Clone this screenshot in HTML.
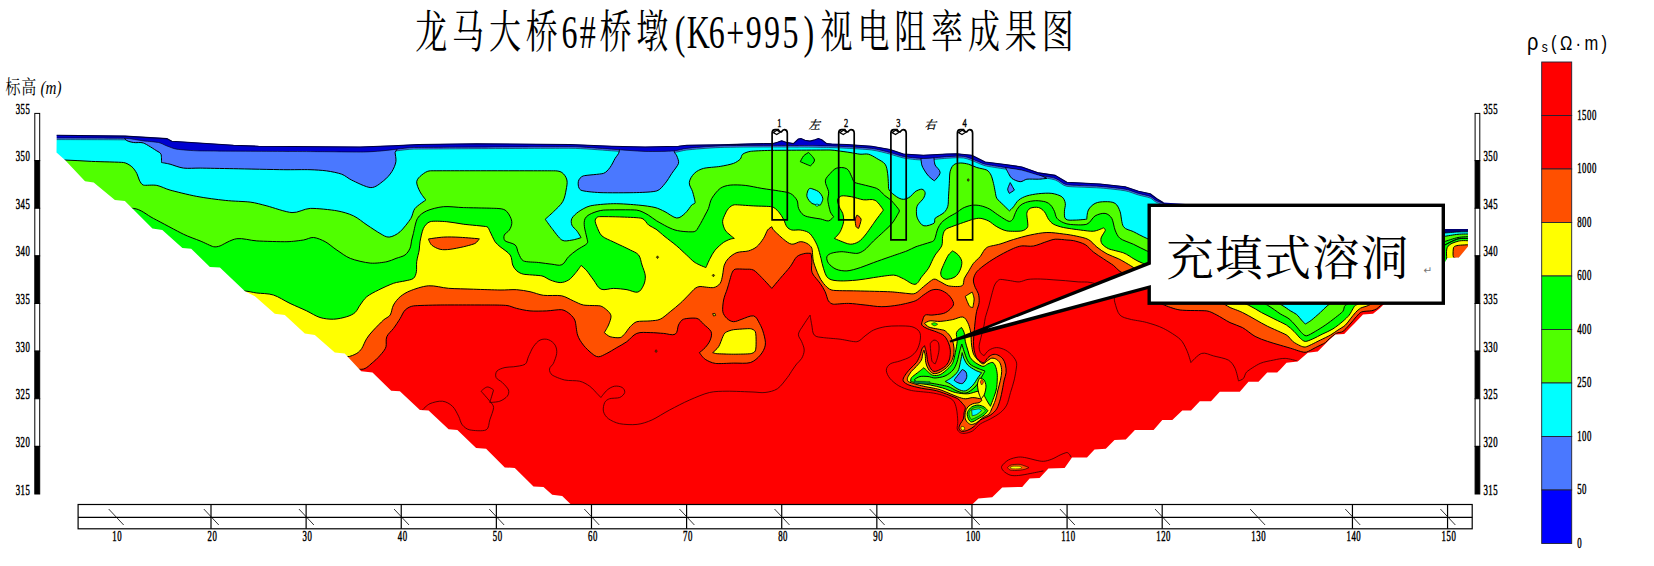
<!DOCTYPE html>
<html lang="zh"><head><meta charset="utf-8"><title>龙马大桥6#桥墩(K6+995)视电阻率成果图</title>
<style>
html,body{margin:0;padding:0;background:#fff}
body{width:1654px;height:566px;overflow:hidden}
svg{display:block}
text{fill:#000}
.ax{font-family:"Liberation Serif","Noto Serif CJK SC",serif;font-size:14.6px;letter-spacing:0.9px;stroke:#000;stroke-width:0.5px}
.axx{font-family:"Liberation Serif","Noto Serif CJK SC",serif;font-size:12.5px}
.cb{font-family:"Liberation Serif","Noto Serif CJK SC",serif;font-size:11.5px}
.bh{font-family:"Liberation Serif","Noto Serif CJK SC",serif;font-size:13.5px;stroke:#000;stroke-width:0.45px}
.bhc{font-family:"Liberation Serif","Noto Serif CJK SC",serif;font-size:11.5px;stroke:#000;stroke-width:0.25px;font-style:italic}
.title{font-family:"Liberation Serif","Noto Serif CJK SC",serif;font-size:32px}
.call{font-family:"Liberation Serif","Noto Serif CJK SC",serif;font-size:47.6px}
.unit{font-family:"Liberation Sans","Noto Sans CJK SC",sans-serif;font-size:16.5px}
.ylab{font-family:"Liberation Serif","Noto Serif CJK SC",serif;font-size:15px}
</style></head>
<body>
<svg width="1654" height="566" viewBox="0 0 1654 566">
<defs><clipPath id="clip"><rect x="44" y="104" width="1428.5" height="400.5"/></clipPath></defs>
<rect width="1654" height="566" fill="#fff"/>
<g transform="scale(1 1.42)"><text y="34.0141" class="title" text-anchor="middle" x="431.2 468.1 504.9 541.8 569.4 587.8 615.5 652.3 680.0 698.4 716.8 735.2 753.7 772.1 790.5 808.9 836.6 873.4 910.3 947.1 984.0 1020.8 1057.7">龙马大桥6#桥墩(K6+995)视电阻率成果图</text></g>
<g transform="scale(1 1.3)"><text y="72.6" class="ylab" text-anchor="middle" x="12.9 28.8">标高</text><text x="40.5" y="72.6" class="ylab" font-style="italic" textLength="21" lengthAdjust="spacingAndGlyphs">(m)</text></g>
<g clip-path="url(#clip)">
<rect x="44" y="104" width="1429" height="400.5" fill="#ff0000"/>
<path d="M30 369.3 C30.0 369.3 357.2 369.4 361.8 369.3 C366.4 369.2 370.4 364.2 373.5 361.8 C376.6 359.4 380.1 355.4 381.8 353.4 C383.5 351.4 385.3 349.2 386 346.7 C386.7 344.2 385.5 339.8 386.8 336.7 C388.1 333.6 391.4 331.2 393.5 328.4 C395.6 325.6 398.5 321.1 400.2 318.4 C401.9 315.7 403.0 312.1 405.2 310 C407.4 307.9 410.5 306.3 413.5 305.9 C416.5 305.5 431.4 305.1 440.2 305 C449.0 304.9 484.8 305.0 490.3 305 C495.8 305.0 503.7 305.1 507 305.5 C510.3 305.9 513.4 307.6 516.7 308.4 C520.0 309.2 525.5 310.5 530 310.9 C534.5 311.3 541.7 311.1 546.7 310.9 C551.7 310.7 558.6 309.3 561.7 309.7 C564.8 310.1 568.0 312.4 570.1 314.2 C572.2 316.0 574.2 318.3 575.1 320.9 C576.0 323.5 576.4 331.5 577.6 335.1 C578.8 338.7 581.1 342.1 583.4 345.1 C585.7 348.1 589.9 351.9 591.8 353.4 C593.7 354.9 595.9 356.8 598.4 356.8 C600.9 356.8 604.1 354.7 606.8 353.4 C609.5 352.1 613.5 349.5 616.8 347.6 C620.1 345.7 623.7 343.9 626.8 341.7 C629.9 339.5 632.8 335.0 636.8 333.4 C640.8 331.8 645.8 332.6 650.2 332.6 C654.6 332.6 659.6 333.2 663.5 333.4 C667.4 333.6 672.4 335.8 675.2 334.2 C678.0 332.6 677.3 327.2 678.5 325 C679.7 322.8 681.1 320.1 683.5 319.2 C685.9 318.3 694.1 317.7 696.9 318.4 C699.7 319.1 701.5 322.2 703.6 324.2 C705.7 326.2 710.0 329.1 711.1 331.7 C712.2 334.3 711.2 337.5 710.2 340.1 C709.2 342.7 706.9 345.7 705.2 347.6 C703.5 349.5 699.4 352.6 699.4 352.6 C699.4 352.6 702.8 357.7 705.2 359.3 C707.6 360.9 711.7 362.9 715.3 363.4 C718.9 363.9 728.1 363.2 733.6 363.1 C739.1 363.0 746.3 363.8 750.3 362.6 C754.3 361.4 757.9 357.9 760.3 355.1 C762.7 352.3 764.7 348.7 765.3 345.1 C765.9 341.5 764.5 336.8 763.6 333.4 C762.7 330.0 761.1 326.1 759.5 323.4 C757.9 320.7 756.7 316.6 753.6 315.9 C750.5 315.2 744.6 318.4 741.9 319.2 C739.2 320.0 736.1 321.8 733.6 321.7 C731.1 321.6 728.7 320.1 726.9 318.4 C725.1 316.7 723.3 314.3 722.8 311.7 C722.3 309.1 723.0 303.4 723.6 300 C724.2 296.6 726.4 291.6 726.9 290 C727.4 288.4 727.9 286.7 728.4 285.1 C728.9 283.5 731.1 275.0 731.8 273.4 C732.5 271.8 733.4 269.7 735.1 269.2 C736.8 268.7 742.3 269.1 745.1 269.2 C747.9 269.3 751.0 268.8 753.5 270.1 C756.0 271.4 759.2 275.0 761.8 277.6 C764.4 280.2 771.8 288.4 771.8 288.4 C771.8 288.4 777.4 281.7 780.2 278.4 C783.0 275.1 787.8 269.8 790.2 266.7 C792.6 263.6 794.6 258.7 796.8 256.7 C799.0 254.7 803.3 253.8 805.2 253.4 C807.1 253.0 811.0 253.4 811 253.4 C811.0 253.4 811.8 257.9 811.9 260.1 C812.0 262.3 811.3 268.2 811.5 270 C811.7 271.8 812.4 273.5 813.4 275 C814.4 276.5 818.2 280.7 820.1 283.3 C822.0 285.9 823.7 288.8 825.1 291.7 C826.5 294.6 827.3 299.3 828.4 300.9 C829.5 302.5 831.4 304.0 833.4 304.2 C835.4 304.4 843.5 303.3 848.5 303.4 C853.5 303.5 859.6 304.5 865.1 305 C870.6 305.5 876.3 306.7 881.8 306.7 C887.3 306.7 893.0 305.9 898.5 305 C904.0 304.1 912.1 302.1 915.2 300.9 C918.3 299.7 920.8 296.8 923.5 295 C926.2 293.2 929.3 290.8 931.9 290 C934.5 289.2 937.6 289.2 940.2 290 C942.8 290.8 946.3 292.7 948.6 295 C950.9 297.3 953.4 301.2 953.6 303.4 C953.8 305.6 951.8 307.6 950.2 309.2 C948.6 310.8 946.1 312.6 943.6 313.4 C941.1 314.2 934.1 314.9 931.9 315.1 C929.7 315.3 926.8 314.2 925.2 315.1 C923.6 316.0 923.2 318.5 922.7 320.1 C922.2 321.7 921.1 323.7 921.9 325.1 C922.7 326.5 925.6 327.8 927.7 328.8 C929.8 329.8 933.9 330.8 936.5 331.9 C939.1 333.0 942.0 333.9 944 335.7 C946.0 337.5 947.4 340.3 948.4 342.6 C949.4 344.9 950.1 347.6 950.3 350.1 C950.5 352.6 950.2 356.7 949.6 358.9 C949.0 361.1 948.0 363.4 946.5 365.1 C945.0 366.8 942.1 368.5 940.2 369.5 C938.3 370.5 935.6 371.7 933.9 371.4 C932.2 371.1 931.1 369.2 930.2 367.7 C929.3 366.2 928.2 363.6 927.7 361.4 C927.2 359.2 926.9 354.9 926.4 352.6 C925.9 350.3 924.5 345.7 924.5 345.7 C924.5 345.7 922.6 347.6 922 348.8 C921.4 350.0 920.9 353.1 920.1 355.1 C919.3 357.1 918.0 360.4 916.4 362.6 C914.8 364.8 911.9 366.9 910.1 368.9 C908.3 370.9 906.1 373.5 905.1 375.2 C904.1 376.9 902.5 379.0 903.2 380.8 C903.9 382.6 906.7 384.1 908.9 385 C911.1 385.9 917.2 387.3 921.4 388.2 C925.6 389.1 932.3 389.6 936.5 390.7 C940.7 391.8 946.1 394.0 949 395.1 C951.9 396.2 956.0 397.7 957.8 398.8 C959.6 399.9 961.0 401.8 962.2 403.2 C963.4 404.6 965.0 405.9 965.3 407.6 C965.6 409.3 964.4 410.9 964.1 412.6 C963.8 414.3 964.0 417.1 963.4 418.9 C962.8 420.7 960.9 422.5 960.3 423.9 C959.7 425.3 958.8 427.0 959 428.3 C959.2 429.6 960.2 431.1 961.5 431.4 C962.8 431.7 965.8 431.0 967.8 430.2 C969.8 429.4 972.2 427.9 974.1 426.4 C976.0 424.9 978.0 421.8 980.4 420.1 C982.8 418.4 988.0 416.8 990.4 415.1 C992.8 413.4 995.2 411.4 996.7 408.9 C998.2 406.4 999.6 401.6 1000.4 398.8 C1001.2 396.0 1001.7 392.9 1002.3 390 C1002.9 387.1 1003.7 382.4 1004.2 380 C1004.7 377.6 1005.9 375.2 1006.1 372.7 C1006.3 370.2 1006.0 367.3 1005.5 365.1 C1005.0 362.9 1004.2 360.5 1002.9 358.9 C1001.6 357.2 999.4 355.8 997.9 355.1 C996.4 354.4 994.5 354.1 992.9 354.5 C991.3 354.9 989.3 356.3 987.9 357.6 C986.5 358.9 985.2 362.0 984.1 362.6 C983.0 363.2 981.5 362.1 980.4 361.4 C979.3 360.7 977.5 359.1 976.6 357.6 C975.7 356.1 974.6 352.7 974.1 350.1 C973.6 347.5 973.5 344.2 973.5 341.3 C973.5 338.4 973.9 335.4 974.1 332.5 C974.3 329.6 975.0 323.1 975.3 320.2 C975.6 317.3 976.0 314.3 976.6 311.4 C977.2 308.5 978.8 305.5 979.1 302.6 C979.4 299.7 979.0 296.0 978.4 293.8 C977.8 291.6 976.1 289.8 975.3 287.6 C974.5 285.4 973.2 282.6 973.4 280 C973.6 277.4 974.9 274.0 976.8 271.7 C978.7 269.4 983.3 265.9 986.8 263.4 C990.3 260.9 995.8 257.5 1000.1 255.1 C1004.4 252.7 1010.9 249.5 1013.5 248.4 C1016.1 247.3 1019.0 246.2 1021.8 245.9 C1024.6 245.6 1029.7 246.7 1033.5 246 C1037.3 245.3 1044.2 242.3 1046.9 241.5 C1049.6 240.7 1052.4 239.4 1055.2 239.2 C1058.0 239.0 1064.8 239.8 1066.9 240 C1069.0 240.2 1071.3 240.1 1073.4 240.6 C1075.5 241.1 1082.0 242.7 1085.2 244.6 C1088.4 246.5 1090.6 249.9 1093.6 252.2 C1096.6 254.5 1100.3 256.7 1103.6 258.9 C1106.9 261.1 1111.4 263.9 1113.7 265.6 C1116.0 267.3 1117.6 270.0 1120 271.5 C1122.4 273.0 1140.4 281.2 1145 285 C1149.6 288.8 1152.8 297.7 1155 300 C1157.2 302.3 1160.4 303.5 1163.4 304.7 C1166.4 305.9 1174.4 309.2 1180.1 310 C1185.8 310.8 1203.3 310.4 1206.8 310.9 C1210.3 311.4 1213.6 313.4 1216.8 315 C1220.0 316.6 1226.0 320.6 1230 322.6 C1234.0 324.6 1238.6 325.5 1242.5 327.6 C1246.4 329.7 1251.2 334.3 1255.1 336.4 C1259.0 338.5 1263.5 340.0 1267.6 341.4 C1271.7 342.8 1276.1 344.0 1280.2 345.2 C1284.3 346.4 1290.2 348.1 1292.7 348.9 C1295.2 349.7 1298.3 350.9 1300.3 351.4 C1302.3 351.9 1304.5 352.6 1306.5 352.1 C1308.5 351.6 1312.4 349.2 1315.3 347.7 C1318.2 346.2 1323.8 343.7 1325.3 342.7 C1326.8 341.7 1327.7 340.0 1329.1 338.9 C1330.5 337.8 1334.7 334.2 1336.6 333.2 C1338.5 332.2 1341.1 332.6 1342.9 331.4 C1344.7 330.2 1347.2 327.3 1349.2 325.1 C1351.2 322.9 1355.2 317.9 1356.7 316.3 C1358.2 314.7 1359.6 312.7 1361.7 311.9 C1363.8 311.1 1370.1 311.1 1371.8 310.7 C1373.5 310.3 1375.4 309.6 1376.8 308.8 C1378.2 308.0 1379.1 306.4 1380.5 305.6 C1381.9 304.8 1392.7 295.7 1400 295 C1407.3 294.3 1490.0 295.0 1490 295 C1490.0 295.0 1490.0 95.0 1490 95 C1490.0 95.0 30.0 95.0 30 95 C30.0 95.0 30.0 369.3 30 369.3Z" fill="#ff5000" stroke="#000" stroke-width="1" stroke-linejoin="round"/>
<path d="M30 356.8 C30.0 356.8 343.3 356.8 346.8 356.8 C350.3 356.8 354.8 354.5 356.8 353.4 C358.8 352.3 360.5 350.3 361.8 348.4 C363.1 346.5 364.9 341.4 366.8 338.4 C368.7 335.4 371.1 332.7 373.5 330.1 C375.9 327.5 381.5 321.9 383.5 320 C385.5 318.1 388.7 317.3 390.2 315 C391.7 312.7 391.8 308.0 393.5 305 C395.2 302.0 397.5 299.0 400.2 296.7 C402.9 294.4 406.6 292.2 410.2 290.8 C413.8 289.4 422.3 286.2 428.6 285.8 C434.9 285.4 442.0 287.8 448.6 288.3 C455.2 288.8 465.3 288.9 473.6 289.2 C481.9 289.5 494.5 289.9 500 290 C505.5 290.1 512.3 289.4 516.7 289.7 C521.1 290.0 525.7 290.8 530 291.7 C534.3 292.6 538.9 294.7 543.4 295.3 C547.9 295.9 557.6 295.0 561.7 295.8 C565.8 296.6 570.1 299.5 573.4 300.9 C576.7 302.3 579.9 304.3 583.4 305 C586.9 305.7 597.6 305.4 600.1 305.9 C602.6 306.4 605.0 308.4 606.8 310 C608.6 311.6 610.7 313.5 611 315.9 C611.3 318.3 609.6 322.3 608.5 325 C607.4 327.7 604.3 332.6 604.3 332.6 C604.3 332.6 607.9 336.0 610.1 336.7 C612.3 337.4 618.0 338.1 620.1 337.6 C622.2 337.1 623.6 335.0 625.1 333.4 C626.6 331.8 628.3 328.6 630.2 326.7 C632.1 324.8 634.2 322.5 636.8 321.7 C639.4 320.9 646.9 321.3 650.2 320.9 C653.5 320.5 657.2 320.6 660.2 319.2 C663.2 317.8 667.0 314.3 670.2 311.7 C673.4 309.1 677.3 306.0 680.2 303.4 C683.1 300.8 686.4 297.2 688.6 295 C690.8 292.8 693.8 289.3 695.2 288.3 C696.6 287.3 698.3 286.6 700 286.5 C701.7 286.4 710.8 288.0 713.4 287.6 C716.0 287.2 718.6 285.5 720.1 283.4 C721.6 281.3 722.0 277.9 722.6 275.1 C723.2 272.3 723.4 267.5 724.3 265.1 C725.2 262.7 726.6 260.2 728.4 258.4 C730.2 256.6 733.6 253.8 736.8 252.6 C740.0 251.4 745.6 251.8 748.5 250.9 C751.4 250.0 754.4 248.7 756.8 246.7 C759.2 244.7 761.8 241.0 763.5 238.4 C765.2 235.8 766.6 231.4 767.6 230 C768.6 228.6 771.8 226.7 771.8 226.7 C771.8 226.7 772.7 229.1 773.5 230 C774.3 230.9 781.0 237.2 783.5 239.2 C786.0 241.2 788.9 243.8 791.8 244.2 C794.7 244.6 797.9 241.8 800.2 241.7 C802.5 241.6 804.9 242.3 806.9 243.4 C808.9 244.5 811.1 246.2 811.9 248.4 C812.7 250.6 812.4 257.4 813.5 261.7 C814.6 266.0 817.2 272.2 818.5 275.1 C819.8 278.0 821.4 281.0 823.5 283.4 C825.6 285.8 828.4 289.3 831.9 290.1 C835.4 290.9 848.6 290.7 856.9 290.9 C865.2 291.1 884.8 291.5 890.3 291.8 C895.8 292.1 904.2 293.2 906.9 293.4 C909.6 293.6 912.7 294.4 915.2 293.4 C917.7 292.4 920.7 288.9 923.5 286.7 C926.3 284.5 931.4 279.9 933.6 279.2 C935.8 278.5 938.1 280.8 940.2 281.7 C942.3 282.6 945.6 285.3 948.6 285.9 C951.6 286.5 959.5 287.0 961.9 285.9 C964.3 284.8 963.3 280.6 964.4 278.3 C965.5 276.0 967.1 273.9 968.4 271.7 C969.7 269.5 971.5 265.9 973.4 263.4 C975.3 260.9 978.5 258.7 980.1 256.7 C981.7 254.7 983.2 251.5 984.3 250.1 C985.4 248.7 986.8 247.3 988.5 246.7 C990.2 246.1 996.3 245.1 1000.1 244 C1003.9 242.9 1009.0 240.8 1013.5 239.5 C1018.0 238.2 1024.7 236.1 1030.2 235 C1035.7 233.9 1041.4 232.7 1046.9 232.5 C1052.4 232.3 1059.1 233.5 1063.5 234 C1067.9 234.5 1072.9 235.3 1076.8 236.2 C1080.7 237.1 1085.2 237.8 1088.5 239.6 C1091.8 241.4 1094.0 244.8 1096.9 247.1 C1099.8 249.4 1103.5 252.0 1107 253.9 C1110.5 255.8 1115.0 257.0 1118.8 258.9 C1122.6 260.8 1128.3 264.3 1130.5 265.6 C1132.7 266.9 1134.7 268.6 1137 269.5 C1139.3 270.4 1166.0 279.4 1180 285 C1194.0 290.6 1223.4 303.9 1225.1 304.7 C1226.8 305.5 1228.3 306.7 1230 307.5 C1231.7 308.3 1238.5 310.6 1242.5 312.5 C1246.5 314.4 1251.0 317.1 1255.1 319.4 C1259.2 321.7 1263.5 324.3 1267.6 326.3 C1271.7 328.3 1277.7 330.8 1280.2 332 C1282.7 333.2 1285.7 334.3 1287.7 335.8 C1289.7 337.3 1290.8 339.9 1292.7 341.4 C1294.6 342.9 1298.7 345.1 1300.3 345.8 C1301.9 346.5 1303.6 347.2 1305.3 347 C1307.0 346.8 1309.5 345.4 1311.5 344.5 C1313.5 343.6 1317.4 341.5 1320.3 340.1 C1323.2 338.7 1327.8 336.6 1330.4 335.1 C1333.0 333.6 1335.4 331.8 1337.9 330.1 C1340.4 328.5 1343.4 326.9 1345.4 325.1 C1347.4 323.3 1348.7 320.9 1350.4 318.8 C1352.1 316.7 1354.0 314.1 1355.5 312.5 C1357.0 310.9 1358.6 309.3 1360.5 308.2 C1362.4 307.1 1365.6 306.7 1368 305.6 C1370.4 304.5 1408.5 286.5 1420 280 C1431.5 273.5 1450.9 259.7 1453.1 257.6 C1455.3 255.5 1452.3 250.2 1453.1 248.4 C1453.9 246.6 1456.3 246.0 1458.2 245.5 C1460.1 245.0 1464.8 244.6 1468 244.5 C1471.2 244.4 1490.0 244.5 1490 244.5 C1490.0 244.5 1490.0 95.0 1490 95 C1490.0 95.0 30.0 95.0 30 95 C30.0 95.0 30.0 356.8 30 356.8Z" fill="#ffff00" stroke="#000" stroke-width="1" stroke-linejoin="round"/>
<path d="M712.7 352.6 C712.7 352.6 717.1 349.0 718.6 346.7 C720.1 344.4 722.1 338.1 722.8 336.7 C723.5 335.3 724.0 333.5 725.3 332.6 C726.6 331.7 730.7 330.1 733.6 329.7 C736.5 329.3 748.4 328.5 750.3 328.7 C752.2 328.9 754.5 329.9 755.3 331.7 C756.1 333.5 756.1 338.7 756.1 341.7 C756.1 344.7 756.1 349.2 755.3 350.9 C754.5 352.6 752.2 353.4 750.3 353.7 C748.4 354.0 739.1 354.2 733.6 354.2 C728.1 354.2 718.3 353.8 716.9 353.7 C715.5 353.6 712.7 352.6 712.7 352.6Z" fill="#ffff00" stroke="#000" stroke-width="1" stroke-linejoin="round"/>
<path d="M965.3 296.3 C965.3 296.3 972.2 292.0 972.2 292 C972.2 292.0 974.0 296.5 974.1 298.9 C974.2 301.3 972.8 307.6 972.8 307.6 C972.8 307.6 970.4 307.2 969.7 306.4 C969.0 305.6 967.9 303.0 967.2 301.4 C966.5 299.8 965.3 296.3 965.3 296.3Z" fill="#ffff00" stroke="#000" stroke-width="1" stroke-linejoin="round"/>
<path d="M712.7 313.7 C712.7 313.7 714.9 313.4 714.9 313.4 C714.9 313.4 715.6 315.4 715.6 315.4 C715.6 315.4 713.6 316.0 713.6 316 C713.6 316.0 712.7 313.7 712.7 313.7Z" fill="#ffff00" stroke="#000" stroke-width="1" stroke-linejoin="round"/>
<path d="M428.4 239 C428.4 239.0 438.4 237.4 443.4 237.1 C448.4 236.8 454.6 237.0 460.1 237.3 C465.6 237.6 479.3 238.8 479.3 238.8 C479.3 238.8 476.9 242.5 475.1 243.4 C473.3 244.3 467.3 245.9 463.4 246.8 C459.5 247.7 453.4 248.9 450.1 249.3 C446.8 249.7 443.1 250.0 440.1 249.3 C437.1 248.6 433.4 246.6 431.7 245.1 C430.0 243.6 428.4 239.0 428.4 239Z" fill="#ff5000" stroke="#000" stroke-width="1" stroke-linejoin="round"/>
<path d="M30 291 C30.0 291.0 239.1 291.0 243.5 291 C247.9 291.0 252.3 292.4 256.7 293 C261.1 293.6 268.1 293.3 273.4 295 C278.7 296.7 284.5 300.8 290 303.4 C295.5 306.0 302.3 308.8 306.7 310.9 C311.1 313.0 315.7 316.2 320 317.5 C324.3 318.8 328.9 319.3 333.4 319.2 C337.9 319.1 343.9 317.6 346.8 316.7 C349.7 315.8 352.9 314.5 355.1 312.5 C357.3 310.5 358.3 307.4 360.1 305 C361.9 302.6 364.1 298.9 366.8 296.7 C369.5 294.5 374.5 292.0 378.5 290 C382.5 288.0 389.8 284.6 393.5 283.3 C397.2 282.0 402.2 281.6 405 280.9 C407.8 280.2 411.5 279.9 413.4 278.4 C415.3 276.9 415.9 274.1 416.4 271.7 C416.9 269.3 416.3 265.0 416.7 261.7 C417.1 258.4 418.8 252.7 419.2 250 C419.6 247.3 419.5 244.5 420 241.8 C420.5 239.1 422.0 231.2 423.4 228.4 C424.8 225.6 427.1 222.6 430.1 221.7 C433.1 220.8 441.2 221.3 446.7 221.7 C452.2 222.1 457.9 223.5 463.4 224.2 C468.9 224.9 484.9 226.2 486.8 226.7 C488.7 227.2 489.1 230.0 490.1 231.8 C491.1 233.6 493.8 239.9 495.1 241.8 C496.4 243.7 498.4 245.2 500.1 246.7 C501.8 248.2 508.3 252.2 510.2 255 C512.1 257.8 511.8 262.8 512.7 265 C513.6 267.2 515.0 269.4 516.8 270.9 C518.6 272.4 521.1 273.7 523.5 274.2 C525.9 274.7 538.9 275.3 541.9 275.9 C544.9 276.5 547.3 278.9 550.2 280 C553.1 281.1 557.3 282.6 560.2 282.6 C563.1 282.6 566.1 281.5 568.6 280 C571.1 278.5 573.2 275.7 575.2 273.4 C577.2 271.1 581.1 265.4 581.1 265.4 C581.1 265.4 585.2 268.9 586.9 270.9 C588.6 272.9 591.3 277.1 593.6 280 C595.9 282.9 597.5 287.7 601.1 289.2 C604.7 290.7 609.5 288.3 613.6 288.4 C617.7 288.5 623.4 289.1 627 289.7 C630.6 290.3 634.9 292.9 637.8 292.1 C640.7 291.3 642.3 287.8 643.6 285.1 C644.9 282.4 645.5 279.0 645.3 275.9 C645.1 272.8 643.1 268.3 642 265 C640.9 261.7 640.6 257.5 638.6 255 C636.6 252.5 633.1 251.5 630.3 250 C627.5 248.5 617.5 243.9 613.6 242 C609.7 240.1 604.4 238.2 601.9 235.9 C599.4 233.6 597.8 228.8 596.9 226.7 C596.0 224.6 594.9 221.7 595.2 220.1 C595.5 218.5 597.0 216.9 598.6 216.7 C600.2 216.5 615.4 216.7 622 217 C628.6 217.3 639.0 217.5 642 218.4 C645.0 219.3 646.5 223.4 648.7 225.1 C650.9 226.8 653.7 227.6 656 229.2 C658.3 230.8 662.0 234.3 665 236.7 C668.0 239.1 673.3 243.0 676.7 245.9 C680.1 248.8 683.9 252.6 686.7 255.1 C689.5 257.6 692.0 260.6 695.1 262.6 C698.2 264.6 705.9 267.6 705.9 267.6 C705.9 267.6 708.6 261.2 710.1 258.4 C711.6 255.6 713.0 252.6 715.1 250.1 C717.2 247.6 721.4 243.9 723.4 242.5 C725.4 241.1 728.8 239.7 730.1 239.2 C731.4 238.7 734.3 238.4 734.3 238.4 C734.3 238.4 731.4 236.2 730.1 235 C728.8 233.8 726.2 232.0 725.1 230 C724.0 228.0 722.6 224.3 722.6 221.7 C722.6 219.1 724.2 216.2 725.1 214.2 C726.0 212.2 726.9 210.0 728.5 208.4 C730.1 206.8 732.1 205.0 734.4 204.8 C736.7 204.6 747.4 205.6 753.5 205.9 C759.6 206.2 769.2 206.2 771.9 206.8 C774.6 207.4 776.7 209.8 778.6 211.8 C780.5 213.8 782.2 216.8 783.5 219.2 C784.8 221.6 785.6 225.1 786.8 226.7 C788.0 228.3 789.9 229.5 791.8 230 C793.7 230.5 797.5 229.6 800.2 230 C802.9 230.4 806.3 231.1 808.5 232.5 C810.7 233.9 812.1 236.3 813.5 238.4 C814.9 240.5 816.6 243.8 817.7 246.7 C818.8 249.6 820.1 255.1 821 258.4 C821.9 261.7 822.3 265.2 823.5 268.4 C824.7 271.6 825.5 276.2 828.5 278.4 C831.5 280.6 836.3 280.7 840.2 280.9 C844.1 281.1 851.4 280.6 856.9 280.1 C862.4 279.6 868.1 278.4 873.6 277.6 C879.1 276.8 890.1 275.0 893.6 275.1 C897.1 275.2 900.3 277.4 903.5 278.8 C906.7 280.2 911.7 284.7 915 284.3 C918.3 283.9 919.6 279.3 921.7 276.8 C923.8 274.3 927.0 270.5 928.4 268.4 C929.8 266.3 930.6 263.9 931.7 261.7 C932.8 259.5 933.8 257.2 935.1 255.1 C936.4 253.0 940.5 248.7 941.7 245.9 C942.9 243.1 942.1 239.0 942.6 236.7 C943.1 234.4 943.5 231.7 945.1 230 C946.7 228.3 949.4 227.6 951.7 226.7 C954.0 225.8 960.1 223.6 963.4 222.5 C966.7 221.4 971.2 219.7 973.4 219.2 C975.6 218.7 977.9 218.1 980.1 218.3 C982.3 218.5 985.9 219.6 988.5 220.9 C991.1 222.2 993.9 225.1 996.8 226.7 C999.7 228.3 1003.3 230.3 1006.8 230.9 C1010.3 231.5 1019.5 231.4 1021.8 230.9 C1024.1 230.4 1027.0 229.0 1027.7 226.7 C1028.4 224.4 1026.5 215.3 1026.8 213.3 C1027.1 211.3 1028.4 209.2 1030.2 208.3 C1032.0 207.4 1036.2 206.9 1038.5 207.5 C1040.8 208.1 1042.8 209.9 1044.4 211.7 C1046.0 213.5 1047.1 217.3 1048.5 219.2 C1049.9 221.1 1051.5 223.1 1053.5 224.2 C1055.5 225.3 1060.1 226.8 1063.5 227.5 C1066.9 228.2 1075.8 229.5 1080.2 230 C1084.6 230.5 1090.1 231.5 1093.6 231.2 C1097.1 230.9 1103.6 227.8 1103.6 227.8 C1103.6 227.8 1105.5 229.4 1105.3 230.4 C1105.1 231.4 1101.6 236.0 1101.1 237.9 C1100.6 239.8 1100.9 242.2 1102 243.8 C1103.1 245.4 1106.2 247.7 1108.7 248.8 C1111.2 249.9 1120.2 251.6 1123.8 253 C1127.4 254.4 1131.2 257.4 1133.9 258.9 C1136.6 260.4 1139.4 262.0 1142.3 263.1 C1145.2 264.2 1183.8 278.6 1200 285 C1216.2 291.4 1244.4 303.3 1248.8 305.3 C1253.2 307.3 1257.3 310.3 1261.4 312.5 C1265.5 314.7 1269.8 316.7 1273.9 318.8 C1278.0 320.9 1283.8 323.4 1286.5 325.1 C1289.2 326.8 1291.8 329.3 1294 331.4 C1296.2 333.5 1298.8 337.0 1300.3 338.3 C1301.8 339.6 1303.4 341.3 1305.3 341.4 C1307.2 341.5 1310.4 339.9 1312.8 338.9 C1315.2 337.9 1319.5 335.5 1322.8 333.9 C1326.1 332.3 1329.7 330.9 1332.9 328.9 C1336.1 326.9 1340.7 323.2 1342.9 321.3 C1345.1 319.4 1347.7 317.0 1349.2 315.1 C1350.7 313.2 1352.1 310.0 1352.9 308.8 C1353.7 307.6 1354.2 305.9 1355.5 305.3 C1356.8 304.7 1410.9 279.3 1420 275 C1429.1 270.7 1444.1 265.3 1447.4 262 C1450.7 258.7 1445.5 251.4 1447.4 247.7 C1449.3 244.0 1455.1 242.3 1458.2 241.4 C1461.3 240.5 1464.8 241.4 1468 241.4 C1471.2 241.4 1490.0 241.4 1490 241.4 C1490.0 241.4 1490.0 95.0 1490 95 C1490.0 95.0 30.0 95.0 30 95 C30.0 95.0 30.0 291.0 30 291Z" fill="#00ff00" stroke="#000" stroke-width="1" stroke-linejoin="round"/>
<path d="M952.6 250.9 C952.6 250.9 956.9 253.3 958.4 255.1 C959.9 256.9 961.5 259.3 961.8 261.7 C962.1 264.1 961.2 267.6 960.1 270.1 C959.0 272.6 957.4 275.2 955.1 276.8 C952.8 278.4 948.5 279.3 946.7 279.3 C944.9 279.3 942.7 278.2 941.7 276.8 C940.7 275.4 940.6 273.4 940.9 271.7 C941.2 270.0 943.0 266.1 944.2 263.4 C945.4 260.7 947.3 256.7 948.4 255.1 C949.5 253.5 952.6 250.9 952.6 250.9Z" fill="#00ff00" stroke="#000" stroke-width="1" stroke-linejoin="round"/>
<path d="M837.5 200.1 C837.8 198.2 839.8 196.3 841.7 195.9 C843.6 195.5 848.4 196.2 851.7 196.8 C855.0 197.4 859.6 199.2 863.4 199.8 C867.2 200.4 871.7 198.5 875.1 200.3 C878.5 202.1 883.4 210.1 883.4 210.1 C883.4 210.1 877.8 217.6 876.7 219 C875.6 220.4 874.6 222.0 873.6 223.4 C872.6 224.8 867.3 232.6 865.3 235 C863.3 237.4 861.1 240.2 858.6 241.7 C856.1 243.2 853.1 244.3 850.2 244.2 C847.3 244.1 842.2 241.6 840.2 240.9 C838.2 240.2 834.4 238.4 834.4 238.4 C834.4 238.4 838.8 234.3 840.2 231.7 C841.6 229.1 843.2 224.5 843.6 221.7 C844.0 218.9 843.2 215.1 842.7 213.3 C842.2 211.5 840.7 210.1 840 208.4 C839.3 206.7 837.2 202.0 837.5 200.1Z" fill="#ffff00" stroke="#000" stroke-width="1" stroke-linejoin="round"/>
<path d="M856.9 215 C856.9 215.0 860.9 217.3 861.1 219.2 C861.3 221.1 858.6 228.4 858.6 228.4 C858.6 228.4 856.5 227.6 856.1 226.7 C855.7 225.8 855.1 221.7 855.2 220 C855.3 218.3 856.9 215.0 856.9 215Z" fill="#ff5000" stroke="#000" stroke-width="1" stroke-linejoin="round"/>
<path d="M30 208.4 C30.0 208.4 126.0 207.8 133.4 208.4 C140.8 209.0 146.8 215.0 153.4 218.4 C160.0 221.8 178.1 231.6 183.4 234.2 C188.7 236.8 195.7 239.1 200.1 240.9 C204.5 242.7 211.2 246.2 213.4 246.7 C215.6 247.2 218.0 246.6 220.1 245.9 C222.2 245.2 230.9 239.5 236.8 238.7 C242.7 237.9 250.2 240.5 256.8 240.9 C263.4 241.3 281.4 241.8 286.9 241.7 C292.4 241.6 300.1 240.5 303.5 240 C306.9 239.5 310.2 237.2 313.6 237.5 C317.0 237.8 321.6 239.8 325.2 241.7 C328.8 243.6 332.9 247.5 336.9 250.1 C340.9 252.7 345.5 256.5 350.3 258.4 C355.1 260.3 364.8 262.6 370.3 263.1 C375.8 263.6 383.9 262.3 387 261.7 C390.1 261.1 393.0 259.5 396 258.4 C399.0 257.3 402.8 256.6 405 255 C407.2 253.4 408.9 250.8 410 248.3 C411.1 245.8 411.2 242.2 411.7 240 C412.2 237.8 412.8 235.6 413.4 233.4 C414.0 231.2 415.5 221.8 417.5 218.4 C419.5 215.0 423.1 212.5 426.7 210.9 C430.3 209.3 437.7 207.2 443.4 206.7 C449.1 206.2 456.8 207.4 463.4 207.6 C470.0 207.8 494.0 208.2 496.8 208.4 C499.6 208.6 502.8 208.7 505.1 210.1 C507.4 211.5 509.2 214.7 510.2 216.7 C511.2 218.7 512.0 221.1 511.8 223.4 C511.6 225.7 510.6 228.1 509.3 230.1 C508.0 232.1 505.0 233.3 504.3 235.1 C503.6 236.9 503.7 239.6 505.1 240.9 C506.5 242.2 513.0 243.0 515.2 245 C517.4 247.0 517.1 250.7 518.5 253.3 C519.9 255.9 520.8 259.6 523.5 260.9 C526.2 262.2 534.1 262.0 538.5 262.5 C542.9 263.0 548.6 263.9 551.9 264.2 C555.2 264.5 558.9 266.1 561.9 264.7 C564.9 263.3 566.1 259.1 568.6 256.7 C571.1 254.3 574.3 251.8 576.9 250 C579.5 248.2 584.1 245.8 585.2 245 C586.3 244.2 587.8 243.1 587.7 241.8 C587.6 240.5 584.7 229.4 584.4 226.7 C584.1 224.0 583.9 220.8 585.2 218.4 C586.5 216.0 589.2 214.5 591.7 213.4 C594.2 212.3 599.4 210.4 603.4 210.1 C607.4 209.8 632.5 209.6 636.7 210.1 C640.9 210.6 645.5 213.5 648.4 215.1 C651.3 216.7 653.8 219.3 656.7 220.9 C659.6 222.5 668.9 228.2 675 230 C681.1 231.8 691.7 232.1 694.2 231.7 C696.7 231.3 697.8 228.0 699.2 225.9 C700.6 223.8 704.0 217.2 705.1 215 C706.2 212.8 707.6 210.7 708.5 208.4 C709.4 206.1 710.0 201.4 711.8 198.4 C713.6 195.4 717.4 190.4 720.2 188.4 C723.0 186.4 726.7 185.5 730.2 185.1 C733.7 184.7 740.3 184.9 745.2 185.4 C750.1 185.9 756.4 187.5 761.9 188.4 C767.4 189.3 774.7 190.2 778.6 190.9 C782.5 191.6 787.5 192.0 790.3 193.4 C793.1 194.8 795.5 197.7 796.9 200.1 C798.3 202.5 797.5 205.9 798.6 208.4 C799.7 210.9 801.3 213.5 803.6 215.1 C805.9 216.7 809.2 217.0 811.9 217.6 C814.6 218.2 817.5 218.4 820.3 218.9 C823.1 219.4 826.5 221.3 828.6 220.9 C830.7 220.5 833.6 216.7 833.6 216.7 C833.6 216.7 830.9 213.6 830.3 211.8 C829.7 210.0 828.0 202.9 827.8 200.1 C827.6 197.3 829.0 194.5 828.6 191.7 C828.2 188.9 825.0 183.9 825.3 180.9 C825.6 177.9 828.5 175.4 830.3 173.4 C832.1 171.4 834.1 168.9 836.7 168.1 C839.3 167.3 844.0 167.2 846.7 168.7 C849.4 170.2 850.6 174.8 851.7 176.7 C852.8 178.6 853.0 181.7 855 182.6 C857.0 183.5 873.3 186.9 876.7 188.4 C880.1 189.9 883.3 194.4 885.1 195.9 C886.9 197.4 889.2 198.4 890.9 200.1 C892.6 201.8 898.6 208.8 899.2 210.1 C899.8 211.4 898.5 212.9 897.8 214.2 C897.1 215.5 894.3 220.6 892 223.4 C889.7 226.2 886.4 229.0 883.6 231.7 C880.8 234.4 876.7 237.9 873.6 240.9 C870.5 243.9 866.6 248.5 864.4 250.1 C862.2 251.7 859.6 253.2 856.9 253.4 C854.2 253.6 845.2 251.7 841.9 251.7 C838.6 251.7 833.8 252.5 831.9 253.1 C830.0 253.7 827.5 254.8 826.9 256.7 C826.3 258.6 827.2 261.6 828.6 263.4 C830.0 265.2 833.2 268.0 836.1 269.2 C839.0 270.4 843.3 271.1 846.9 270.9 C850.5 270.7 856.0 269.0 860.3 267.6 C864.6 266.2 869.2 264.2 873.6 262.6 C878.0 261.0 884.8 258.6 890.3 256.7 C895.8 254.8 903.9 252.1 907 250.9 C910.1 249.7 912.9 247.8 916 246.7 C919.1 245.6 931.4 242.0 932.7 241.4 C934.0 240.8 934.7 239.1 935.2 237.7 C935.7 236.3 936.8 231.1 937.7 228.9 C938.6 226.7 939.9 224.4 941.5 222.6 C943.1 220.8 945.6 219.1 947.8 217.6 C950.0 216.1 954.5 213.9 956.6 212.6 C958.7 211.3 960.5 209.3 962.8 208.2 C965.1 207.1 968.7 205.7 971.6 205.3 C974.5 204.9 977.5 205.1 980.4 205.7 C983.3 206.3 986.9 207.7 989.2 208.8 C991.5 209.9 993.4 211.8 995.5 213.2 C997.6 214.6 1001.0 217.0 1003 218.2 C1005.0 219.4 1007.8 221.3 1009.3 221.4 C1010.8 221.5 1012.2 220.1 1013 218.9 C1013.8 217.7 1014.5 214.6 1015.5 212.6 C1016.5 210.6 1017.6 208.0 1019.3 206.3 C1021.0 204.6 1023.3 203.3 1025.6 202.5 C1027.9 201.7 1032.3 200.8 1035.6 200.7 C1038.9 200.6 1043.7 201.3 1045.6 201.9 C1047.5 202.5 1049.3 203.6 1050.7 205.1 C1052.1 206.6 1053.4 209.1 1054.4 211.3 C1055.4 213.5 1055.4 216.3 1056.9 218.2 C1058.4 220.1 1060.9 221.5 1063.2 222.6 C1065.5 223.7 1068.2 224.3 1070.7 224.5 C1073.2 224.7 1083.1 225.5 1086.8 224.2 C1090.5 222.9 1092.2 217.6 1095.1 215.9 C1098.0 214.2 1102.4 213.0 1105.1 213.4 C1107.8 213.8 1110.4 216.0 1111.8 218.4 C1113.2 220.8 1113.9 227.1 1115.1 230.1 C1116.3 233.1 1117.6 236.4 1120.1 238.4 C1122.6 240.4 1129.1 242.3 1133.5 244.3 C1137.9 246.3 1142.3 249.0 1146.8 250.9 C1151.3 252.8 1203.8 272.7 1220 280 C1236.2 287.3 1263.2 302.8 1267.6 305.3 C1272.0 307.8 1277.4 312.0 1280.2 313.8 C1283.0 315.6 1286.7 317.0 1289 318.8 C1291.3 320.6 1293.2 322.9 1295.2 325.1 C1297.2 327.3 1300.1 331.3 1301.5 332.6 C1302.9 333.9 1304.5 336.0 1306.5 335.8 C1308.5 335.6 1312.5 333.0 1315.3 331.4 C1318.1 329.8 1322.1 327.3 1325.3 325.1 C1328.5 322.9 1332.9 319.6 1335.4 317.6 C1337.9 315.6 1341.5 313.0 1342.9 311.3 C1344.3 309.6 1343.6 306.5 1345.4 305.3 C1347.2 304.1 1411.0 267.9 1420 262 C1429.0 256.1 1437.9 244.1 1444.8 240.7 C1451.7 237.3 1460.8 238.7 1468 238.3 C1475.2 237.9 1490.0 238.3 1490 238.3 C1490.0 238.3 1490.0 95.0 1490 95 C1490.0 95.0 30.0 95.0 30 95 C30.0 95.0 30.0 208.4 30 208.4Z" fill="#50ff00" stroke="#000" stroke-width="1" stroke-linejoin="round"/>
<path d="M30 160 C30.0 160.0 55.1 159.8 64.2 160 C73.3 160.2 82.6 161.0 91.7 161.4 C100.8 161.8 120.3 162.1 123.4 162.5 C126.5 162.9 129.7 165.0 131.8 166.7 C133.9 168.4 135.6 171.3 136.8 173.4 C138.0 175.5 138.3 178.2 139.3 180.1 C140.3 182.0 141.4 184.5 143.4 185.1 C145.4 185.7 152.5 184.6 156.8 185.4 C161.1 186.2 165.6 188.9 170.1 190.1 C174.6 191.3 187.9 194.7 196.8 196.4 C205.7 198.1 217.0 199.5 225.2 200.4 C233.4 201.3 244.6 201.4 250.2 202.1 C255.8 202.8 261.4 204.5 266.9 205.9 C272.4 207.3 285.8 212.2 292 212.6 C298.2 213.0 304.1 208.6 310.3 208.4 C316.5 208.2 331.2 209.8 336.9 210.8 C342.6 211.8 348.8 213.6 353.6 215.9 C358.4 218.2 362.7 222.2 367 225 C371.3 227.8 377.1 231.8 380 233.4 C382.9 235.0 385.9 237.4 389.2 237.1 C392.5 236.8 397.0 234.4 400 231.8 C403.0 229.2 409.0 221.4 410.9 218.4 C412.8 215.4 412.7 211.2 415 208.4 C417.3 205.6 425.9 200.0 425.9 200 C425.9 200.0 421.5 194.7 420 191.7 C418.5 188.7 416.4 184.4 416.7 181.7 C417.0 179.0 419.6 176.7 421.7 175 C423.8 173.3 427.0 170.9 430.1 170.8 C433.2 170.7 550.7 170.8 553.5 170.8 C556.3 170.8 559.6 170.9 561.9 172.5 C564.2 174.1 566.2 177.1 566.9 180 C567.6 182.9 566.7 186.7 566.1 190 C565.5 193.3 564.7 198.2 562.7 201.7 C560.7 205.2 556.1 209.1 553.5 211.7 C550.9 214.3 545.2 219.2 545.2 219.2 C545.2 219.2 549.6 225.5 551.9 228.4 C554.2 231.3 559.1 238.4 561.9 240.1 C564.7 241.8 568.8 240.5 571.9 240.1 C575.0 239.7 581.1 237.6 581.1 237.6 C581.1 237.6 578.4 232.9 576.9 230.9 C575.4 228.9 572.7 227.2 571.9 225.1 C571.1 223.0 570.9 220.4 571.9 218.4 C572.9 216.4 576.0 213.5 578.6 211.7 C581.2 209.9 586.0 206.9 590.2 205.9 C594.4 204.9 605.8 203.8 613.6 203.7 C621.4 203.6 633.2 204.6 638.6 205.1 C644.0 205.6 651.5 206.6 655 207.5 C658.5 208.4 661.8 210.1 665 211.7 C668.2 213.3 673.5 217.7 676.7 218 C679.9 218.3 682.7 215.4 685.1 213.3 C687.5 211.2 690.8 206.0 691.7 205 C692.6 204.0 695.0 204.0 695.1 202.6 C695.2 201.2 693.5 194.8 692.6 191.7 C691.7 188.6 689.0 185.8 689.3 182.6 C689.6 179.4 691.9 175.8 694.3 173.4 C696.7 171.0 700.2 169.3 703.5 168.4 C706.8 167.5 715.8 167.1 720.2 166.4 C724.6 165.7 731.0 164.3 733.5 163.4 C736.0 162.5 738.9 160.5 740.2 159.2 C741.5 157.9 741.2 155.3 742.7 154.2 C744.2 153.1 747.6 151.8 750.2 151.4 C752.8 151.0 763.6 150.5 770.2 150.4 C776.8 150.3 827.2 150.0 830 150 C832.8 150.0 835.6 150.6 838.3 150.9 C841.0 151.2 846.7 152.0 850 152.5 C853.3 153.0 857.2 153.9 860 154.2 C862.8 154.5 865.7 153.5 868.4 154.2 C871.1 154.9 874.1 156.8 876.7 158.4 C879.3 160.0 883.3 161.7 885.1 164.2 C886.9 166.7 887.1 170.3 887.6 173.4 C888.1 176.5 888.2 181.2 888.4 183.4 C888.6 185.6 888.0 188.2 889.2 190.1 C890.4 192.0 894.7 195.5 896.7 196.8 C898.7 198.1 901.0 199.3 903.4 199.3 C905.8 199.3 908.1 198.1 910.1 196.8 C912.1 195.5 913.1 193.0 915.1 191.7 C917.1 190.4 920.2 189.1 921.8 189.2 C923.4 189.3 924.8 191.1 925.1 192.6 C925.4 194.1 924.4 196.7 923.4 198.4 C922.4 200.1 918.6 203.3 917.6 205.1 C916.6 206.9 916.4 209.2 916.4 211.3 C916.4 213.4 916.5 216.6 917.7 218.9 C918.9 221.2 920.9 225.0 923.9 225.8 C926.9 226.6 932.6 224.1 934 223.2 C935.4 222.3 934.0 219.4 935.2 218.2 C936.4 217.0 942.2 214.3 944 212.6 C945.8 210.9 947.1 208.6 947.8 206.3 C948.5 204.0 948.3 199.9 948.5 196.8 C948.7 193.7 949.1 187.3 949.3 183.4 C949.5 179.5 949.5 174.1 950.1 171.7 C950.7 169.3 951.8 166.5 953.5 165 C955.2 163.5 957.9 163.1 960.2 163 C962.5 162.9 965.8 163.5 968.5 164.2 C971.2 164.9 974.0 166.6 976.8 167.5 C979.6 168.4 984.9 169.1 986.8 170.1 C988.7 171.1 990.0 173.2 991 175.1 C992.0 177.0 992.8 180.7 993.5 183.4 C994.2 186.1 994.7 189.5 995.2 191.7 C995.7 193.9 995.7 196.5 996.9 198.4 C998.1 200.3 1001.6 203.2 1003.5 205.1 C1005.4 207.0 1009.4 210.9 1009.4 210.9 C1009.4 210.9 1012.3 208.3 1013.5 206.8 C1014.7 205.3 1016.4 201.9 1018.6 200.1 C1020.8 198.3 1024.0 196.8 1026.9 195.9 C1029.8 195.0 1034.7 194.1 1038.6 193.7 C1042.5 193.3 1048.4 192.9 1051.9 193.4 C1055.4 193.9 1059.9 195.3 1061.9 196.8 C1063.9 198.3 1064.9 201.0 1065.3 203.4 C1065.7 205.8 1064.3 209.3 1064.4 211.8 C1064.5 214.3 1063.9 217.7 1065.9 219.2 C1067.9 220.7 1072.0 220.1 1075.1 220.1 C1078.2 220.1 1086.8 219.2 1086.8 219.2 C1086.8 219.2 1087.0 212.7 1088.4 210 C1089.8 207.3 1092.3 204.8 1095.1 203.4 C1097.9 202.0 1101.8 201.7 1105.1 201.7 C1108.4 201.7 1112.4 201.6 1115.1 203.4 C1117.8 205.2 1119.0 208.7 1120.1 211.7 C1121.2 214.7 1121.4 223.6 1123.5 226.7 C1125.6 229.8 1130.2 230.0 1133.5 231.7 C1136.8 233.4 1142.3 236.4 1146.8 238.4 C1151.3 240.4 1198.9 259.6 1220 270 C1241.1 280.4 1279.3 303.7 1282.1 305.3 C1284.9 306.9 1288.2 309.4 1290.2 310.7 C1292.2 312.0 1294.6 312.9 1296.5 314.4 C1298.4 315.9 1300.3 318.8 1301.5 320.1 C1302.7 321.4 1305.3 324.1 1305.3 324.1 C1305.3 324.1 1309.6 321.6 1311.5 320.1 C1313.4 318.6 1317.7 314.8 1320.3 312.5 C1322.9 310.2 1325.1 307.3 1327.9 305.3 C1330.7 303.3 1386.2 263.1 1400 255 C1413.8 246.9 1437.4 238.6 1444.8 236.3 C1452.2 234.0 1460.7 234.5 1468 234.1 C1475.3 233.7 1490.0 234.1 1490 234.1 C1490.0 234.1 1490.0 95.0 1490 95 C1490.0 95.0 30.0 95.0 30 95 C30.0 95.0 30.0 160.0 30 160Z" fill="#00ffff" stroke="#000" stroke-width="1" stroke-linejoin="round"/>
<path d="M810.3 188.4 C811.5 188.5 816.6 190.1 818.6 191.7 C820.6 193.3 822.5 196.1 822.8 198.4 C823.1 200.7 820.3 205.1 820.3 205.1 C820.3 205.1 814.3 204.8 812 203.4 C809.7 202.0 807.6 198.7 807 196.8 C806.4 194.9 807.4 192.0 807.8 190.9 C808.2 189.8 809.1 188.3 810.3 188.4Z" fill="#00ffff" stroke="#000" stroke-width="1" stroke-linejoin="round"/>
<path d="M808.6 152.5 C808.6 152.5 814.2 157.6 814.5 160 C814.8 162.4 810.3 165.9 810.3 165.9 C810.3 165.9 800.3 161.7 800.3 161.7 C800.3 161.7 802.3 157.4 803.6 155.9 C804.9 154.4 808.6 152.5 808.6 152.5Z" fill="#00ff00" stroke="#000" stroke-width="1" stroke-linejoin="round"/>
<path d="M30 139.6 C30.0 139.6 47.9 139.6 56.7 139.6 C65.5 139.6 119.0 139.7 125.1 139.9 C131.2 140.1 138.4 141.9 143.4 142.5 C148.4 143.1 155.6 143.5 158.5 144.1 C161.4 144.7 164.0 146.5 166.8 147.5 C169.6 148.5 173.4 150.3 176.8 150.8 C180.2 151.3 192.5 152.4 200.2 152.5 C207.9 152.6 313.7 153.2 326 153.3 C338.3 153.4 357.3 153.7 363.4 153.6 C369.5 153.5 376.8 152.9 381.8 152.5 C386.8 152.1 391.8 151.3 396.8 150.8 C401.8 150.3 408.0 149.2 413.5 149.1 C419.0 149.0 556.2 148.2 570 148.3 C583.8 148.4 600.7 150.1 611.7 150.8 C622.7 151.5 635.7 152.7 645.1 153 C654.5 153.3 669.0 152.8 673.5 152.5 C678.0 152.2 682.4 150.5 686.8 150 C691.2 149.5 709.2 147.9 720.2 147.5 C731.2 147.1 753.7 147.0 770.2 147 C786.7 147.0 824.5 147.4 830 147.5 C835.5 147.6 841.2 148.0 846.7 148.3 C852.2 148.6 865.5 149.2 871.7 150 C877.9 150.8 885.7 153.0 890.1 154.1 C894.5 155.2 898.9 157.2 903.4 158 C907.9 158.8 916.8 160.0 923.4 160 C930.0 160.0 941.3 158.6 946.8 158.3 C952.3 158.0 958.9 157.4 963.5 158 C968.1 158.6 974.0 161.5 976.8 162.5 C979.6 163.5 982.3 165.1 985.2 165.8 C988.1 166.5 999.7 168.2 1005.2 169.1 C1010.7 170.0 1016.5 170.5 1021.9 171.7 C1027.3 172.9 1033.1 175.3 1038.6 176.7 C1044.1 178.1 1051.2 178.6 1055.3 180 C1059.4 181.4 1062.5 185.5 1066.7 186.3 C1070.9 187.1 1091.8 187.4 1100.1 188 C1108.4 188.6 1120.5 190.0 1125.1 190.8 C1129.7 191.6 1134.7 193.9 1138.5 195 C1142.3 196.1 1147.7 197.0 1150.2 198 C1152.7 199.0 1154.4 201.6 1156.9 202.5 C1159.4 203.4 1185.1 214.9 1200 216.6 C1214.9 218.3 1437.1 234.2 1444.8 234.7 C1452.5 235.2 1460.7 233.7 1468 233.5 C1475.3 233.3 1490.0 233.5 1490 233.5 C1490.0 233.5 1490.0 95.0 1490 95 C1490.0 95.0 30.0 95.0 30 95 C30.0 95.0 30.0 139.6 30 139.6Z" fill="#4a78ff" stroke="#000" stroke-width="0.5" stroke-linejoin="round"/>
<path d="M125.1 139 C126.8 141.5 130.5 141.9 133.4 142.5 C136.3 143.1 140.3 141.9 143.4 143 C146.5 144.1 155.3 150.0 156.8 150.9 C158.3 151.8 160.3 152.6 161 154.2 C161.7 155.8 161.5 162.5 161.5 162.5 C161.5 162.5 167.3 163.5 170.1 164.2 C172.9 164.9 178.9 167.5 183.5 168.1 C188.1 168.7 194.7 168.0 200.2 168.1 C205.7 168.2 222.5 168.5 233.5 168.7 C244.5 168.9 274.9 169.6 283.6 169.7 C292.3 169.8 304.5 169.5 310 169.7 C315.5 169.9 321.7 170.2 326.7 170.9 C331.7 171.6 338.1 172.9 341.7 174.2 C345.3 175.5 348.2 178.5 351.7 180.1 C355.2 181.7 366.2 187.5 370.9 187.6 C375.6 187.7 380.1 183.4 383.4 180.9 C386.7 178.4 389.9 174.7 391.8 171.7 C393.7 168.7 395.4 164.7 395.9 161.7 C396.4 158.7 395.0 153.6 395.1 152.5 C395.2 151.4 396.6 150.6 396.8 149.5 C397.0 148.4 396.8 140.0 396.8 140 C396.8 140.0 125.0 130.0 125 130 C125.0 130.0 123.4 136.5 125.1 139Z" fill="#4a78ff" stroke="#000" stroke-width="1" stroke-linejoin="round"/>
<path d="M619.2 151.7 C618.7 154.2 616.4 156.2 615.1 158.4 C613.8 160.6 611.8 165.2 610 167.5 C608.2 169.8 606.2 172.5 603.4 173.4 C600.6 174.3 585.7 175.1 583.3 175.9 C580.9 176.7 578.7 179.2 578.3 181.7 C577.9 184.2 578.2 188.8 580.8 190.1 C583.4 191.4 593.6 192.3 600 192.6 C606.4 192.9 630.0 192.8 636.7 192.6 C643.4 192.4 653.3 192.0 656.8 190.9 C660.3 189.8 662.7 186.2 665.1 183.4 C667.5 180.6 669.6 176.7 671.8 173.4 C674.0 170.1 677.8 165.8 678.5 163.4 C679.2 161.0 677.3 157.4 676.8 155.9 C676.3 154.4 674.6 153.3 674.3 151.7 C674.0 150.1 674.0 140.0 674 140 C674.0 140.0 619.0 140.0 619 140 C619.0 140.0 619.7 149.2 619.2 151.7Z" fill="#4a78ff" stroke="#000" stroke-width="1" stroke-linejoin="round"/>
<path d="M920.9 158 C920.9 158.0 921.3 163.2 921.8 165 C922.3 166.8 923.3 168.5 924.3 170.1 C925.3 171.7 926.8 174.2 928.4 175.9 C930.0 177.6 934.3 180.9 934.3 180.9 C934.3 180.9 939.9 175.6 940.1 172.6 C940.3 169.6 936.0 167.3 935.1 165 C934.2 162.7 934.0 157.5 934 157.5 C934.0 157.5 920.9 158.0 920.9 158Z" fill="#4a78ff" stroke="#000" stroke-width="1" stroke-linejoin="round"/>
<path d="M1005.2 167 C1005.2 167.0 1007.5 171.7 1008.5 173.4 C1009.5 175.1 1010.3 177.2 1011.9 178.4 C1013.5 179.6 1017.8 181.6 1020.2 181.7 C1022.6 181.8 1024.6 179.5 1026.9 179.2 C1029.2 178.9 1035.9 179.3 1038.6 179.2 C1041.3 179.1 1046.9 178.4 1046.9 178.4 C1046.9 178.4 1041.5 175.5 1038.6 174.5 C1035.7 173.5 1027.3 170.7 1021.9 169.5 C1016.5 168.3 1005.2 167.0 1005.2 167Z" fill="#4a78ff" stroke="#000" stroke-width="1" stroke-linejoin="round"/>
<path d="M1010.2 182.6 C1010.2 182.6 1014.4 190.1 1014.4 190.1 C1014.4 190.1 1009.4 193.4 1009.4 193.4 C1009.4 193.4 1007.6 190.7 1007.7 189.2 C1007.8 187.7 1010.2 182.6 1010.2 182.6Z" fill="#4a78ff" stroke="#000" stroke-width="1" stroke-linejoin="round"/>
<path d="M30 138 C30.0 138.0 47.9 138.0 56.7 138 C65.5 138.0 119.0 138.1 125.1 138.3 C131.2 138.5 138.4 140.3 143.4 140.9 C148.4 141.5 155.6 141.9 158.5 142.5 C161.4 143.1 164.0 144.9 166.8 145.9 C169.6 146.9 173.4 148.7 176.8 149.2 C180.2 149.7 192.5 150.8 200.2 150.9 C207.9 151.0 313.7 151.6 326 151.7 C338.3 151.8 357.3 152.1 363.4 152 C369.5 151.9 376.8 151.3 381.8 150.9 C386.8 150.5 391.8 149.7 396.8 149.2 C401.8 148.7 408.0 147.6 413.5 147.5 C419.0 147.4 556.2 146.6 570 146.7 C583.8 146.8 600.7 148.5 611.7 149.2 C622.7 149.9 635.7 151.1 645.1 151.4 C654.5 151.7 669.0 151.2 673.5 150.9 C678.0 150.6 682.4 148.9 686.8 148.4 C691.2 147.9 709.2 146.3 720.2 145.9 C731.2 145.5 753.7 145.4 770.2 145.4 C786.7 145.4 824.5 145.8 830 145.9 C835.5 146.0 841.2 146.4 846.7 146.7 C852.2 147.0 865.5 147.6 871.7 148.4 C877.9 149.2 885.7 151.4 890.1 152.5 C894.5 153.6 898.9 155.6 903.4 156.4 C907.9 157.2 916.8 158.4 923.4 158.4 C930.0 158.4 941.3 157.0 946.8 156.7 C952.3 156.4 958.9 155.8 963.5 156.4 C968.1 157.0 974.0 159.9 976.8 160.9 C979.6 161.9 982.3 163.5 985.2 164.2 C988.1 164.9 999.7 166.6 1005.2 167.5 C1010.7 168.4 1016.5 168.9 1021.9 170.1 C1027.3 171.3 1033.1 173.7 1038.6 175.1 C1044.1 176.5 1051.2 177.0 1055.3 178.4 C1059.4 179.8 1062.5 183.9 1066.7 184.7 C1070.9 185.5 1091.8 185.8 1100.1 186.4 C1108.4 187.0 1120.5 188.4 1125.1 189.2 C1129.7 190.0 1134.7 192.3 1138.5 193.4 C1142.3 194.5 1147.7 195.4 1150.2 196.4 C1152.7 197.4 1154.4 200.0 1156.9 200.9 C1159.4 201.8 1185.1 213.3 1200 215 C1214.9 216.7 1437.1 232.6 1444.8 233.1 C1452.5 233.6 1460.7 232.1 1468 231.9 C1475.3 231.7 1490.0 231.9 1490 231.9 C1490.0 231.9 1490.0 95.0 1490 95 C1490.0 95.0 30.0 95.0 30 95 C30.0 95.0 30.0 138.0 30 138Z" fill="#0000d0" stroke="#000" stroke-width="0.6" stroke-linejoin="round"/>
<path d="M924.5 323.3 C924.5 323.3 928.1 321.0 930.1 320.8 C932.1 320.6 936.9 321.6 940.2 321.4 C943.5 321.2 949.3 320.3 952.7 319.6 C956.1 318.9 960.3 316.5 962.8 317 C965.3 317.5 966.6 320.5 967.8 322.7 C969.0 324.9 969.9 328.7 970.3 330.2 C970.7 331.7 970.9 333.4 971 335 C971.1 336.6 971.2 342.2 971.6 345.1 C972.0 348.0 972.5 351.6 973.5 353.9 C974.5 356.2 976.5 358.6 977.9 360.1 C979.3 361.6 981.4 363.7 982.9 363.9 C984.4 364.1 985.4 362.2 986.6 361.4 C987.8 360.6 990.0 358.5 991.7 358.2 C993.4 357.9 995.3 358.6 996.7 359.5 C998.1 360.4 999.7 362.2 1000.4 363.9 C1001.1 365.6 1001.7 368.9 1001.7 371.4 C1001.7 373.9 1001.0 377.3 1000.4 380.2 C999.8 383.1 998.7 386.8 997.9 390 C997.1 393.2 996.4 397.1 995.4 400.1 C994.4 403.1 992.5 407.2 991.7 408.9 C990.9 410.6 990.4 412.6 989.1 413.9 C987.8 415.2 984.8 416.2 982.9 417.6 C981.0 419.0 978.1 421.8 976.6 422.7 C975.1 423.6 973.0 424.5 971.6 424.5 C970.2 424.5 968.8 423.6 967.8 422.7 C966.8 421.8 965.7 420.4 965.3 418.9 C964.9 417.4 964.9 414.6 965.3 412.6 C965.7 410.6 966.5 408.5 967.8 407 C969.1 405.5 971.0 404.5 972.8 403.8 C974.6 403.1 977.9 403.1 979.1 402.6 C980.3 402.1 982.2 400.1 982.2 400.1 C982.2 400.1 981.1 399.0 980.4 398.8 C979.7 398.6 975.3 397.6 972.8 397.6 C970.3 397.6 967.8 398.9 965.3 398.8 C962.8 398.7 960.2 397.7 957.8 396.9 C955.4 396.1 952.8 394.8 950.3 393.8 C947.8 392.8 942.8 390.5 939 389.4 C935.2 388.3 926.8 387.0 923.9 386.3 C921.0 385.6 917.4 384.7 915.1 384 C912.8 383.3 909.2 382.3 908.2 381.5 C907.2 380.7 907.2 378.9 907.6 377.7 C908.0 376.5 910.0 373.2 911.4 371.4 C912.8 369.6 914.9 368.1 916.4 366.4 C917.9 364.7 920.5 362.0 921.4 360.1 C922.3 358.2 922.4 355.2 922.7 353.9 C923.0 352.6 923.9 350.1 923.9 350.1 C923.9 350.1 924.9 353.4 925.2 355.1 C925.5 356.8 925.3 360.4 925.8 362.6 C926.3 364.8 927.2 367.2 928.3 368.9 C929.4 370.6 930.8 372.6 932.7 373.3 C934.6 374.0 937.1 373.5 939 372.7 C940.9 371.9 944.5 369.5 946.5 367.7 C948.5 365.9 950.3 363.8 951.5 361.4 C952.7 359.0 953.7 355.5 954 352.6 C954.3 349.7 954.0 346.4 953.4 343.8 C952.8 341.2 951.3 337.9 950.3 336.3 C949.3 334.7 947.3 332.7 946.5 332 C945.7 331.3 944.9 330.5 943.9 330.2 C942.9 329.9 939.7 329.4 937.7 329 C935.7 328.6 930.7 327.9 928.9 327.1 C927.1 326.3 924.5 323.3 924.5 323.3Z" fill="#ffff00" stroke="#000" stroke-width="1" stroke-linejoin="round"/>
<path d="M961.5 327.5 C961.5 327.5 963.6 330.7 964.1 332.5 C964.6 334.3 964.7 338.4 965.3 341.3 C965.9 344.2 967.0 347.6 967.8 350.1 C968.6 352.6 969.1 355.6 970.3 357.6 C971.5 359.6 973.4 361.3 975.3 362.6 C977.2 363.9 981.1 366.2 982.9 366.4 C984.7 366.6 986.3 364.5 987.9 363.9 C989.5 363.3 991.4 361.9 992.9 362.6 C994.4 363.3 995.4 365.8 996 367.7 C996.6 369.6 997.2 372.7 997.3 375.2 C997.4 377.7 997.1 384.5 996.7 387.5 C996.3 390.5 995.2 393.4 994.2 396.3 C993.2 399.2 990.4 406.3 990.4 406.3 C990.4 406.3 987.8 402.2 986.6 400.1 C985.4 398.0 984.2 395.1 982.9 393.8 C981.6 392.5 979.7 391.3 977.9 391.3 C976.1 391.3 971.2 393.6 967.8 393.8 C964.4 394.0 959.3 393.4 955.3 392.5 C951.3 391.6 946.8 389.2 942.7 388 C938.6 386.8 934.3 385.8 930.2 385 C926.1 384.2 919.9 383.7 917.6 383.3 C915.3 382.9 910.7 381.5 910.7 381.5 C910.7 381.5 910.6 378.7 911.4 377.7 C912.2 376.7 915.5 374.3 917.6 372.7 C919.7 371.1 923.9 367.7 923.9 367.7 C923.9 367.7 926.4 370.3 927.7 371.4 C929.0 372.5 930.7 374.7 932.7 375.2 C934.7 375.7 937.9 375.6 940.2 374.6 C942.5 373.6 945.8 370.7 947.7 368.9 C949.6 367.1 951.7 365.0 952.8 362.6 C953.9 360.2 954.6 355.9 955.3 352.6 C956.0 349.3 957.0 344.2 957.2 341.3 C957.4 338.4 955.8 334.7 956.5 332.5 C957.2 330.3 961.5 327.5 961.5 327.5Z" fill="#00ff00" stroke="#000" stroke-width="1" stroke-linejoin="round"/>
<path d="M961.8 344 C961.8 344.0 965.0 354.5 966 357 C967.0 359.5 968.1 362.1 970 364 C971.9 365.9 974.6 366.9 977 368 C979.4 369.1 985.0 371.0 985 371 C985.0 371.0 982.4 375.7 981 378 C979.6 380.3 977.5 384.5 975 387 C972.5 389.5 969.0 392.3 966 393 C963.0 393.7 959.9 392.0 957 391 C954.1 390.0 951.2 387.4 948 386.5 C944.8 385.6 934.6 383.7 930 383 C925.4 382.3 916.8 381.7 916 381.5 C915.2 381.3 914.5 379.5 914.5 379.5 C914.5 379.5 918.0 376.9 920 376.5 C922.0 376.1 925.6 376.3 928 376.5 C930.4 376.7 932.6 378.1 935 378 C937.4 377.9 942.0 377.3 945 376 C948.0 374.7 951.1 372.2 953 370 C954.9 367.8 956.0 364.8 957 362 C958.0 359.2 958.8 354.7 959.5 352 C960.2 349.3 961.8 344.0 961.8 344Z" fill="#50ff00" stroke="#000" stroke-width="1" stroke-linejoin="round"/>
<path d="M979.5 378 C979.5 378.0 983.0 378.7 984 380 C985.0 381.3 985.9 383.9 986 386 C986.1 388.1 985.2 392.1 984.5 394 C983.8 395.9 981.0 399.0 981 399 C981.0 399.0 979.1 394.4 978.5 392 C977.9 389.6 977.4 386.1 977.5 384 C977.6 381.9 979.5 378.0 979.5 378Z" fill="#ffff00" stroke="#000" stroke-width="1" stroke-linejoin="round"/>
<path d="M981.6 379.5 C981.6 379.5 983.5 381.0 983.5 382 C983.5 383.0 981.6 385.0 981.6 385 C981.6 385.0 980.4 382.9 980.4 382 C980.4 381.1 981.6 379.5 981.6 379.5Z" fill="#ff5000" stroke="#000" stroke-width="0.5" stroke-linejoin="round"/>
<path d="M962.2 352.6 C962.2 352.6 963.2 356.9 964.1 358.9 C965.0 360.9 966.1 363.4 967.8 365.1 C969.5 366.8 973.3 369.1 975.3 370.2 C977.3 371.3 981.6 372.7 981.6 372.7 C981.6 372.7 979.1 376.0 977.9 377.7 C976.7 379.4 974.9 383.0 972.8 385.2 C970.7 387.4 967.8 390.3 965.3 390.9 C962.8 391.5 960.1 390.1 957.8 389 C955.5 387.9 951.9 385.0 950.3 384 C948.7 383.0 945.2 381.5 945.2 381.5 C945.2 381.5 949.6 379.2 951.5 377.7 C953.4 376.2 956.3 373.9 957.8 371.4 C959.3 368.9 959.6 365.5 960.3 362.6 C961.0 359.7 962.2 352.6 962.2 352.6Z" fill="#00ffff" stroke="#000" stroke-width="1" stroke-linejoin="round"/>
<path d="M962.2 369.5 C962.2 369.5 965.2 370.7 965.9 372 C966.6 373.3 967.1 375.9 966.6 377.7 C966.1 379.5 964.2 382.5 962.8 383.3 C961.4 384.1 959.2 383.2 957.8 382.7 C956.4 382.2 954.0 380.2 954 380.2 C954.0 380.2 956.5 376.8 957.8 375.2 C959.1 373.6 962.2 369.5 962.2 369.5Z" fill="#4a78ff" stroke="#000" stroke-width="1" stroke-linejoin="round"/>
<path d="M914 381 C914.0 381.0 930.0 381.5 930 381.5 C930.0 381.5 930.0 383.5 930 383.5 C930.0 383.5 915.9 383.6 915 383.5 C914.1 383.4 914.0 381.0 914 381Z" fill="#008040" stroke="#000" stroke-width="0.3" stroke-linejoin="round"/>
<path d="M931.4 323.9 C931.4 323.9 933.4 322.6 934.5 322.7 C935.6 322.8 937.7 324.2 937.7 324.2 C937.7 324.2 935.7 325.9 934.5 325.8 C933.3 325.7 931.4 323.9 931.4 323.9Z" fill="#00ff00" stroke="#000" stroke-width="0.6" stroke-linejoin="round"/>
<path d="M967.8 411.4 C968.3 410.5 970.0 408.0 971.6 407 C973.2 406.0 975.8 405.1 977.9 405.1 C980.0 405.1 982.6 406.1 984.1 407 C985.6 407.9 987.9 410.7 987.9 410.7 C987.9 410.7 985.6 413.9 984.1 415.1 C982.6 416.3 979.9 417.8 977.9 418.9 C975.9 420.0 973.1 422.0 971.6 422 C970.1 422.0 969.1 420.2 968.4 418.9 C967.7 417.6 967.3 415.5 967.2 414.5 C967.1 413.5 967.3 412.3 967.8 411.4Z" fill="#00ff00" stroke="#000" stroke-width="1" stroke-linejoin="round"/>
<path d="M969.5 411.4 C970.2 410.0 971.6 409.0 973 408.3 C974.4 407.6 976.6 406.9 978.5 407 C980.4 407.1 983.3 408.6 984 409 C984.7 409.4 985.5 411.0 985.5 411 C985.5 411.0 982.6 413.7 981 414.8 C979.4 415.9 977.4 416.9 976 417.6 C974.6 418.3 971.5 419.5 971.5 419.5 C971.5 419.5 969.6 417.3 969.3 416 C969.0 414.7 968.8 412.8 969.5 411.4Z" fill="#50ff00" stroke="#000" stroke-width="0.6" stroke-linejoin="round"/>
<path d="M971.6 410.1 C971.6 410.1 978.1 408.8 979.1 408.9 C980.1 409.0 981.6 410.7 981.6 410.7 C981.6 410.7 977.9 413.8 976.6 414.5 C975.3 415.2 972.2 415.8 972.2 415.8 C972.2 415.8 971.6 410.1 971.6 410.1Z" fill="#00ffff" stroke="#000" stroke-width="0.6" stroke-linejoin="round"/>
<path d="M961.5 426.4 C961.5 426.4 963.5 426.4 964.1 427 C964.7 427.6 964.7 429.6 964.7 429.6 C964.7 429.6 962.9 430.4 962.2 430.2 C961.5 430.0 961.0 428.9 960.9 428.3 C960.8 427.7 961.5 426.4 961.5 426.4Z" fill="#ffff00" stroke="#000" stroke-width="0.6" stroke-linejoin="round"/>
<path d="M1007.5 467.5 C1007.5 467.5 1009.6 465.4 1011 465 C1012.4 464.6 1016.9 464.2 1019 464.3 C1021.1 464.4 1023.6 465.6 1025 466 C1026.4 466.4 1029.0 467.6 1029 467.6 C1029.0 467.6 1025.7 469.1 1024 469.5 C1022.3 469.9 1018.0 470.4 1016 470.5 C1014.0 470.6 1011.1 470.4 1010 470 C1008.9 469.6 1007.5 467.5 1007.5 467.5Z" fill="#ff5000" stroke="#000" stroke-width="0.6" stroke-linejoin="round"/>
<path d="M1010 467.5 C1010.0 467.5 1011.9 466.3 1013 466.2 C1014.1 466.1 1019.3 466.2 1020 466.3 C1020.7 466.4 1021.7 467.8 1021.7 467.8 C1021.7 467.8 1019.9 468.7 1019 468.8 C1018.1 468.9 1012.8 468.9 1012 468.8 C1011.2 468.7 1010.0 467.5 1010 467.5Z" fill="#ffff00" stroke="#000" stroke-width="0.5" stroke-linejoin="round"/>
<path d="M1440 229 C1440.0 229.0 1470.0 229.0 1470 229 C1470.0 229.0 1470.0 262.0 1470 262 C1470.0 262.0 1440.0 263.0 1440 263 C1440.0 263.0 1440.0 229.0 1440 229Z" fill="#00ff00" stroke="#000" stroke-width="0" stroke-linejoin="round"/>
<path d="M1440 229 C1440.0 229.0 1470.0 229.0 1470 229 C1470.0 229.0 1470.0 236.6 1470 236.6 C1470.0 236.6 1461.9 236.7 1458 237.5 C1454.1 238.3 1446.3 241.1 1444.8 241.5 C1443.3 241.9 1440.0 242.0 1440 242 C1440.0 242.0 1440.0 229.0 1440 229Z" fill="#50ff00" stroke="#000" stroke-width="1" stroke-linejoin="round"/>
<path d="M1440 229 C1440.0 229.0 1470.0 229.0 1470 229 C1470.0 229.0 1470.0 234.0 1470 234 C1470.0 234.0 1461.9 233.9 1458 234.3 C1454.1 234.7 1446.4 236.1 1444.8 236.3 C1443.2 236.5 1440.0 236.5 1440 236.5 C1440.0 236.5 1440.0 229.0 1440 229Z" fill="#00ffff" stroke="#000" stroke-width="1" stroke-linejoin="round"/>
<path d="M1440 228 C1440.0 228.0 1470.0 228.0 1470 228 C1470.0 228.0 1470.0 231.8 1470 231.8 C1470.0 231.8 1462.0 231.8 1458 232 C1454.0 232.2 1446.4 232.9 1444.8 233 C1443.2 233.1 1440.0 233.0 1440 233 C1440.0 233.0 1440.0 228.0 1440 228Z" fill="#000070" stroke="#000" stroke-width="0.8" stroke-linejoin="round"/>
<path d="M1447.3 263 C1447.3 263.0 1445.5 251.0 1447.3 247.3 C1449.1 243.6 1454.5 242.3 1458.2 241.2 C1461.9 240.1 1470.0 240.9 1470 240.9 C1470.0 240.9 1470.0 263.0 1470 263 C1470.0 263.0 1447.3 263.0 1447.3 263Z" fill="#ffff00" stroke="#000" stroke-width="1" stroke-linejoin="round"/>
<path d="M1453.7 247.3 C1454.4 245.9 1456.6 245.7 1458.2 245.4 C1459.8 245.1 1469.0 244.7 1469 244.7 C1469.0 244.7 1469.5 246.6 1469 247.3 C1468.5 248.0 1460.0 257.1 1458.8 258 C1457.6 258.9 1455.3 258.4 1454.4 258 C1453.5 257.6 1453.2 256.4 1453.1 255.5 C1453.0 254.6 1453.0 248.7 1453.7 247.3Z" fill="#ff5000" stroke="#000" stroke-width="1" stroke-linejoin="round"/>
<path d="M1444.8 245 C1444.8 245.0 1454.4 239.8 1458.2 238.8 C1462.0 237.8 1470.0 238.6 1470 238.6 C1470.0 238.6 1470.0 238.7 1470 238.7 C1470.0 238.7 1462.0 238.0 1458.2 238.9 C1454.4 239.8 1444.8 245.0 1444.8 245Z" fill="none" stroke="#000" stroke-width="0.9" stroke-linejoin="round"/>
<path d="M656.3 257.2 C656.3 257.2 657.5 255.8 657.5 255.8 C657.5 255.8 658.7 257.2 658.7 257.2 C658.7 257.2 657.5 258.6 657.5 258.6 C657.5 258.6 656.3 257.2 656.3 257.2Z" fill="#604000" stroke="#000" stroke-width="0.6" stroke-linejoin="round"/>
<path d="M712.2 275.4 C712.2 275.4 713.4 274.0 713.4 274 C713.4 274.0 714.6 275.4 714.6 275.4 C714.6 275.4 713.4 276.8 713.4 276.8 C713.4 276.8 712.2 275.4 712.2 275.4Z" fill="#604000" stroke="#000" stroke-width="0.6" stroke-linejoin="round"/>
<path d="M654.9 351.1 C654.9 351.1 656.1 349.7 656.1 349.7 C656.1 349.7 657.3 351.1 657.3 351.1 C657.3 351.1 656.1 352.5 656.1 352.5 C656.1 352.5 654.9 351.1 654.9 351.1Z" fill="#604000" stroke="#000" stroke-width="0.6" stroke-linejoin="round"/>
<path d="M967 180 C967.0 180.0 968.2 178.6 968.2 178.6 C968.2 178.6 969.4 180.0 969.4 180 C969.4 180.0 968.2 181.4 968.2 181.4 C968.2 181.4 967.0 180.0 967 180Z" fill="#604000" stroke="#000" stroke-width="0.6" stroke-linejoin="round"/>
<path d="M815 205 C815.0 205.0 816.2 206.3 817 206.3 C817.8 206.3 819.0 205.0 819 205 C819.0 205.0 817.7 204.0 817 204 C816.3 204.0 815.0 205.0 815 205Z" fill="#00ffff" stroke="#000" stroke-width="0.6" stroke-linejoin="round"/>
<path d="M422.4 410 C422.4 410.0 426.9 405.0 429.9 403.7 C432.9 402.4 438.7 400.8 442.4 401.2 C446.1 401.6 449.7 403.7 452.4 406.2 C455.1 408.7 457.1 413.4 458.6 416.2 C460.1 419.0 460.4 422.6 462.3 424.9 C464.2 427.2 466.9 429.3 469.8 429.9 C472.7 430.5 483.0 431.5 486.1 429.9 C489.2 428.3 488.7 423.2 489.8 419.9 C490.9 416.6 493.6 409.9 493.6 407.5 C493.6 405.1 491.3 403.1 489.8 401.2 C488.3 399.3 481.1 391.2 481.1 391.2 C481.1 391.2 485.0 387.2 487.3 387 C489.6 386.8 493.6 390.0 493.6 390 C493.6 390.0 489.8 402.5 489.8 402.5 C489.8 402.5 497.0 402.2 499.8 401.2 C502.6 400.2 506.0 397.8 507.3 396.2 C508.6 394.6 509.2 392.0 508.5 390 C507.8 388.0 504.2 384.4 502.3 382.5 C500.4 380.6 497.0 379.5 496.1 377.5 C495.2 375.5 495.6 372.6 497 371 C498.4 369.4 502.3 368.2 505 367.5 C507.7 366.8 510.6 367.2 513.3 366.8 C516.0 366.4 522.7 365.8 525 364.3 C527.3 362.8 527.2 359.3 528.4 356.8 C529.6 354.3 531.6 349.2 533.4 346.7 C535.2 344.2 537.5 341.3 540 340.1 C542.5 338.9 545.8 338.8 548.4 339.7 C551.0 340.6 553.7 342.7 555.1 345.1 C556.5 347.5 557.0 350.6 556.7 353.4 C556.4 356.2 554.3 361.4 553.4 363.4 C552.5 365.4 549.7 366.8 549.5 369 C549.3 371.2 550.4 373.7 552.2 375 C554.0 376.3 560.4 379.0 564.7 380 C569.0 381.0 576.1 380.3 579.7 381.2 C583.3 382.1 586.9 384.2 589.7 386.2 C592.5 388.2 596.0 392.5 597.2 393.7 C598.4 394.9 600.9 397.5 600.9 397.5 C600.9 397.5 605.1 391.8 607.2 390 C609.3 388.2 612.2 386.6 614.7 386.2 C617.2 385.8 620.6 386.5 622.2 387.5 C623.8 388.5 625.1 390.7 624.7 392.5 C624.3 394.3 621.9 396.6 619.7 397.5 C617.5 398.4 611.7 398.0 609.7 398.7 C607.7 399.4 605.6 400.6 604.7 402.5 C603.8 404.4 602.8 408.4 603.4 411.2 C604.0 414.0 606.0 416.9 608.4 418.7 C610.8 420.5 615.7 422.9 619.7 423.7 C623.7 424.5 632.0 425.0 637.1 424.4 C642.2 423.8 647.4 422.0 652.1 419.9 C656.8 417.8 663.7 413.1 669.6 410 C675.5 406.9 683.2 402.8 689.6 400 C696.0 397.2 703.9 393.8 709.5 392.5 C715.1 391.2 721.2 391.3 727 391.2 C732.8 391.1 749.0 391.9 753 392 C757.0 392.1 761.1 393.0 765 392.5 C768.9 392.0 773.9 391.1 777.5 388.7 C781.1 386.3 785.5 379.8 787.4 377.5 C789.3 375.2 791.0 372.0 792.4 370 C793.8 368.0 795.2 365.8 796.7 363.9 C798.2 362.0 800.5 360.6 801.7 358.4 C802.9 356.2 804.2 353.0 804.2 350.1 C804.2 347.2 802.6 344.2 801.7 341.7 C800.8 339.2 798.1 336.9 798.4 334.2 C798.7 331.5 801.6 328.0 803.4 325.1 C805.2 322.2 810.1 315.1 810.1 315.1 C810.1 315.1 811.1 321.8 811.8 325.1 C812.5 328.4 812.2 332.8 814.3 335.1 C816.4 337.4 820.3 337.1 823.4 337.6 C826.5 338.1 834.6 338.5 840.1 339.2 C845.6 339.9 853.5 342.1 856.8 341.7 C860.1 341.3 862.4 337.8 865.1 335.9 C867.8 334.0 870.4 331.5 873.5 330.1 C876.6 328.7 881.2 327.4 885.2 326.7 C889.2 326.0 894.1 325.9 898.5 325.9 C902.9 325.9 909.0 325.9 911.9 326.7 C914.8 327.5 917.9 329.3 919.4 331.7 C920.9 334.1 920.6 337.3 920.2 340.1 C919.8 342.9 918.5 347.4 916.9 350.1 C915.3 352.8 912.8 355.1 910.2 356.8 C907.6 358.5 903.4 359.7 900.2 360.9 C897.0 362.1 892.2 362.5 890.2 363.9 C888.2 365.3 886.3 367.8 886.3 370.2 C886.3 372.6 888.1 376.2 890 378.5 C891.9 380.8 895.5 384.0 898.8 385.8 C902.1 387.6 907.1 389.6 911.4 390.5 C915.7 391.4 926.0 392.0 930.2 392.6 C934.4 393.2 939.2 394.1 942.7 395.3 C946.2 396.5 950.6 397.9 952.8 400.1 C955.0 402.3 955.8 405.8 956.5 408.9 C957.2 412.0 957.7 418.9 957.8 421.4 C957.9 423.9 956.9 427.3 957.2 428.9 C957.5 430.5 958.9 431.9 960.3 432.7 C961.7 433.5 963.7 433.5 965.3 433.3 C966.9 433.1 970.6 432.2 972.8 430.8 C975.0 429.4 977.6 425.8 980.4 423.9 C983.2 422.0 987.2 420.7 990.4 418.9 C993.6 417.1 997.9 414.7 1000.4 412.6 C1002.9 410.5 1005.2 408.0 1006.7 405.1 C1008.2 402.2 1009.3 396.6 1010.5 392.5 C1011.7 388.4 1013.3 384.2 1014.2 380 C1015.1 375.8 1016.8 366.7 1016.7 363.9 C1016.6 361.1 1014.7 358.5 1013 356.4 C1011.3 354.3 1008.2 351.5 1005.5 350.1 C1002.8 348.7 999.3 347.6 996.7 347.6 C994.1 347.6 991.2 348.8 989.1 350.1 C987.0 351.4 984.1 355.7 984.1 355.7 C984.1 355.7 981.1 354.0 980.4 352.6 C979.7 351.2 979.0 348.4 979.1 346.3 C979.2 344.2 980.8 338.3 981.6 335 C982.4 331.7 983.6 327.4 984.1 325 C984.6 322.6 984.7 320.1 985.3 317.7 C985.9 315.3 988.2 308.4 989.1 305.1 C990.0 301.8 990.8 298.0 991.6 295.1 C992.4 292.2 993.5 287.9 994.1 286.3 C994.7 284.7 995.6 283.0 996.6 281.9 C997.6 280.8 998.9 279.5 1000.4 279.4 C1001.9 279.3 1007.5 280.3 1010.4 280.7 C1013.3 281.1 1016.3 282.1 1019.2 281.9 C1022.1 281.7 1025.0 279.8 1028 279.4 C1031.0 279.0 1036.4 278.9 1040.5 279 C1044.6 279.1 1049.0 279.5 1053.1 279.8 C1057.2 280.1 1061.5 280.4 1065.6 280.7 C1069.7 281.0 1074.1 281.6 1078.2 281.9 C1082.3 282.2 1086.7 281.6 1090.7 282.5 C1094.7 283.4 1109.1 287.2 1112.3 289.9 C1115.5 292.6 1113.6 298.4 1114.8 302.4 C1116.0 306.4 1117.3 312.2 1119.8 314.9 C1122.3 317.6 1126.5 318.2 1130 319.2 C1133.5 320.2 1141.3 321.0 1146.7 322.5 C1152.1 324.0 1158.2 325.8 1163.4 328.4 C1168.6 331.0 1177.0 336.3 1180.1 339.2 C1183.2 342.1 1184.9 346.3 1186.7 350.1 C1188.5 353.9 1190.9 362.6 1190.9 362.6 C1190.9 362.6 1197.9 354.5 1201.7 353.4 C1205.5 352.3 1209.6 354.9 1213.4 355.9 C1217.2 356.9 1225.3 358.3 1228.4 360.1 C1231.5 361.9 1233.6 365.2 1235.1 368.4 C1236.6 371.6 1238.5 380.9 1238.5 380.9 C1238.5 380.9 1242.3 379.8 1243.5 378.4 C1244.7 377.0 1245.0 373.4 1246.8 371.8 C1248.6 370.2 1256.1 365.2 1260.2 363.4 C1264.3 361.6 1269.7 360.9 1273.5 360.1 C1277.3 359.3 1281.3 358.3 1285.2 358.4 C1289.1 358.5 1296.9 360.9 1296.9 360.9" fill="none" stroke="#300" stroke-width="0.85"/>
<path d="M930.2 343.8 C930.2 343.8 932.2 340.3 933.9 340.1 C935.6 339.9 937.5 341.1 938.3 342.6 C939.1 344.1 939.2 347.6 939 350.1 C938.8 352.6 937.6 357.2 937.1 358.9 C936.6 360.6 935.2 363.9 935.2 363.9 C935.2 363.9 932.6 362.6 932.1 361.4 C931.6 360.2 931.1 355.5 930.8 352.6 C930.5 349.7 930.2 343.8 930.2 343.8" fill="none" stroke="#300" stroke-width="0.85"/>
<path d="M1071 457.1 C1071.0 457.1 1070.0 454.9 1069.3 454.2 C1068.6 453.5 1067.8 452.4 1066.8 452.5 C1065.8 452.6 1062.3 454.0 1060.1 455 C1057.9 456.0 1054.5 458.2 1051.8 459.2 C1049.1 460.2 1046.2 461.2 1043.4 461.3 C1040.6 461.4 1037.8 460.6 1035.1 460 C1032.4 459.4 1029.4 458.4 1026.7 457.9 C1024.0 457.4 1021.1 456.8 1018.4 457.1 C1015.7 457.4 1011.1 458.5 1008.4 460 C1005.7 461.5 1002.4 464.8 1001.7 466.3 C1001.0 467.8 1002.3 469.7 1003.4 470.9 C1004.5 472.1 1007.6 474.3 1010.1 475.1 C1012.6 475.9 1015.7 475.7 1018.4 475.5 C1021.1 475.3 1026.8 474.2 1030.9 473.4 C1035.0 472.6 1043.4 470.9 1043.4 470.9" fill="none" stroke="#300" stroke-width="0.85"/>
</g>
<path d="M42 102 H1473.5 V506 H42 Z M56.7 135 L125 135.8 L166.8 138.3 L171.8 140.9 L233.5 145 L258.6 145.9 L326 146.4 L360 146.7 L393.4 145.4 L418.5 144.2 L476.9 143.4 L570 144.2 L611.7 145.9 L645.1 146.7 L678.5 145.9 L686.8 145 L720.2 144.6 L753.5 143.6 L765 143.3 L773 143.3 L777.5 142 L781.7 140.4 L785.9 142 L793.4 143.3 L798.4 138.7 L800.9 138.3 L805 140 L810 140.8 L815 139.5 L818.4 138.3 L821.7 139.5 L826.7 143.3 L831.7 143.7 L846.7 144.2 L871.7 145.9 L890.1 149.2 L903.4 153.7 L923.4 155 L946.8 153.7 L956.8 153.4 L971.8 155 L985.2 161.7 L1005.2 164.2 L1021.9 166.7 L1038.6 172.6 L1055.3 175.1 L1066.9 182 L1100.1 183.7 L1125.1 186.4 L1138.5 190.9 L1150.2 193.4 L1156.9 198.4 L1163.5 202.5 L1200 205 L1445 229.1 L1468 229.1 L1468 246.5 L1458.8 257.6 L1447.4 257.9 L1444.8 262.4 L1383.1 305 L1379.3 308.8 L1373 313.8 L1363 314.4 L1354.2 323.8 L1350.4 327.6 L1344.2 333.9 L1335.4 334.5 L1329.1 340.1 L1317.8 351.4 L1307.8 352.7 L1297.7 361.5 L1286.5 362.7 L1278.9 370.9 L1279.7 370 L1277.2 372.5 L1267.2 372.5 L1258.5 381.7 L1248.5 381.7 L1239.8 391.7 L1219.8 391.7 L1211 401.2 L1199.8 401.2 L1191 410.4 L1182.3 410.4 L1172.3 419.9 L1162.3 419.9 L1153.6 429.9 L1134.9 429.9 L1125.8 439.4 L1114.5 439.9 L1105.8 448.7 L1094.5 449.4 L1087 457.4 L1072 457.4 L1064.6 468.1 L1048.4 468.6 L1039.6 477.9 L1029.6 478.6 L1022.2 486.9 L1002.2 487.4 L992.2 497.3 L978.4 498.6 L972.2 504.5 L571 504.5 L562.2 496.1 L552.2 494.8 L543.5 486.9 L533.5 486.6 L514.8 467.9 L504.8 467.4 L486.1 448.7 L476.1 447.9 L457.4 429.9 L448.6 429.2 L428.6 410.4 L419.9 410 L399.9 391.2 L391.2 390.7 L372.5 372.5 L361.2 371.2 L344.7 353.6 L334.8 352.4 L314.8 334.9 L304.8 333.6 L284.8 314.9 L274.8 313.7 L254.9 296.2 L244.9 291.2 L219.9 267.5 L209.9 267 L191.2 248.7 L182.4 248 L162.3 229.9 L152.4 228.6 L132.4 208.6 L124.9 201.1 L114.9 199.9 L93.7 182.4 L85 181.2 L65 160 L56.5 152.4Z" fill="#fff" fill-rule="evenodd"/>
<path d="M56.7 135.3 L125 136.1 L166.8 138.6 L171.8 141.2 L233.5 145.3 L258.6 146.2 L326 146.7 L360 147 L393.4 145.7 L418.5 144.5 L476.9 143.7 L570 144.5 L611.7 146.2 L645.1 147 L678.5 146.2 L686.8 145.3 L720.2 144.9 L753.5 143.9 L765 143.6 L773 143.6 L777.5 142.3 L781.7 140.7 L785.9 142.3 L793.4 143.6 L798.4 139 L800.9 138.6 L805 140.3 L810 141.1 L815 139.8 L818.4 138.6 L821.7 139.8 L826.7 143.6 L831.7 144 L846.7 144.5 L871.7 146.2 L890.1 149.5 L903.4 154 L923.4 155.3 L946.8 154 L956.8 153.7 L971.8 155.3 L985.2 162 L1005.2 164.5 L1021.9 167 L1038.6 172.9 L1055.3 175.4 L1066.9 182.3 L1100.1 184 L1125.1 186.7 L1138.5 191.2 L1150.2 193.7 L1156.9 198.7 L1163.5 202.8" fill="none" stroke="#00003c" stroke-width="1.1" stroke-linejoin="round"/>
<rect x="34.8" y="113.4" width="4.9" height="47.225" fill="#fff" stroke="#000" stroke-width="1"/>
<rect x="34.8" y="160.625" width="4.9" height="47.625" fill="#000" stroke="#000" stroke-width="1"/>
<rect x="34.8" y="208.25" width="4.9" height="47.625" fill="#fff" stroke="#000" stroke-width="1"/>
<rect x="34.8" y="255.875" width="4.9" height="47.625" fill="#000" stroke="#000" stroke-width="1"/>
<rect x="34.8" y="303.5" width="4.9" height="47.625" fill="#fff" stroke="#000" stroke-width="1"/>
<rect x="34.8" y="351.125" width="4.9" height="47.625" fill="#000" stroke="#000" stroke-width="1"/>
<rect x="34.8" y="398.75" width="4.9" height="47.625" fill="#fff" stroke="#000" stroke-width="1"/>
<rect x="34.8" y="446.375" width="4.9" height="47.625" fill="#000" stroke="#000" stroke-width="1"/>
<text transform="translate(30.4 113.6) scale(0.6 1)" text-anchor="end" class="ax">355</text>
<text transform="translate(30.4 161.225) scale(0.6 1)" text-anchor="end" class="ax">350</text>
<text transform="translate(30.4 208.85) scale(0.6 1)" text-anchor="end" class="ax">345</text>
<text transform="translate(30.4 256.475) scale(0.6 1)" text-anchor="end" class="ax">340</text>
<text transform="translate(30.4 304.1) scale(0.6 1)" text-anchor="end" class="ax">335</text>
<text transform="translate(30.4 351.725) scale(0.6 1)" text-anchor="end" class="ax">330</text>
<text transform="translate(30.4 399.35) scale(0.6 1)" text-anchor="end" class="ax">325</text>
<text transform="translate(30.4 446.975) scale(0.6 1)" text-anchor="end" class="ax">320</text>
<text transform="translate(30.4 494.6) scale(0.6 1)" text-anchor="end" class="ax">315</text>
<rect x="1475.1" y="113.4" width="4.7" height="47.225" fill="#fff" stroke="#000" stroke-width="1"/>
<rect x="1475.1" y="160.625" width="4.7" height="47.625" fill="#000" stroke="#000" stroke-width="1"/>
<rect x="1475.1" y="208.25" width="4.7" height="47.625" fill="#fff" stroke="#000" stroke-width="1"/>
<rect x="1475.1" y="255.875" width="4.7" height="47.625" fill="#000" stroke="#000" stroke-width="1"/>
<rect x="1475.1" y="303.5" width="4.7" height="47.625" fill="#fff" stroke="#000" stroke-width="1"/>
<rect x="1475.1" y="351.125" width="4.7" height="47.625" fill="#000" stroke="#000" stroke-width="1"/>
<rect x="1475.1" y="398.75" width="4.7" height="47.625" fill="#fff" stroke="#000" stroke-width="1"/>
<rect x="1475.1" y="446.375" width="4.7" height="47.625" fill="#000" stroke="#000" stroke-width="1"/>
<text transform="translate(1483.4 113.6) scale(0.6 1)" text-anchor="start" class="ax">355</text>
<text transform="translate(1483.4 161.225) scale(0.6 1)" text-anchor="start" class="ax">350</text>
<text transform="translate(1483.4 208.85) scale(0.6 1)" text-anchor="start" class="ax">345</text>
<text transform="translate(1483.4 256.475) scale(0.6 1)" text-anchor="start" class="ax">340</text>
<text transform="translate(1483.4 304.1) scale(0.6 1)" text-anchor="start" class="ax">335</text>
<text transform="translate(1483.4 351.725) scale(0.6 1)" text-anchor="start" class="ax">330</text>
<text transform="translate(1483.4 399.35) scale(0.6 1)" text-anchor="start" class="ax">325</text>
<text transform="translate(1483.4 446.975) scale(0.6 1)" text-anchor="start" class="ax">320</text>
<text transform="translate(1483.4 494.6) scale(0.6 1)" text-anchor="start" class="ax">315</text>
<rect x="78.1" y="504.5" width="1394.1" height="24.3" fill="#fff" stroke="#000" stroke-width="1.2"/>
<line x1="78.1" y1="517.4" x2="1472.2" y2="517.4" stroke="#000" stroke-width="1.2"/>
<line x1="108.68" y1="509" x2="123.68" y2="525" stroke="#000" stroke-width="0.8"/>
<text transform="translate(117.28 540.8) scale(0.6 1)" text-anchor="middle" class="ax">10</text>
<line x1="211" y1="504.5" x2="211" y2="528.8" stroke="#000" stroke-width="1.2"/>
<line x1="203.8" y1="509" x2="218.8" y2="525" stroke="#000" stroke-width="0.8"/>
<text transform="translate(212.4 540.8) scale(0.6 1)" text-anchor="middle" class="ax">20</text>
<line x1="306.12" y1="504.5" x2="306.12" y2="528.8" stroke="#000" stroke-width="1.2"/>
<line x1="298.92" y1="509" x2="313.92" y2="525" stroke="#000" stroke-width="0.8"/>
<text transform="translate(307.52 540.8) scale(0.6 1)" text-anchor="middle" class="ax">30</text>
<line x1="401.24" y1="504.5" x2="401.24" y2="528.8" stroke="#000" stroke-width="1.2"/>
<line x1="394.04" y1="509" x2="409.04" y2="525" stroke="#000" stroke-width="0.8"/>
<text transform="translate(402.64 540.8) scale(0.6 1)" text-anchor="middle" class="ax">40</text>
<line x1="496.36" y1="504.5" x2="496.36" y2="528.8" stroke="#000" stroke-width="1.2"/>
<line x1="489.16" y1="509" x2="504.16" y2="525" stroke="#000" stroke-width="0.8"/>
<text transform="translate(497.76 540.8) scale(0.6 1)" text-anchor="middle" class="ax">50</text>
<line x1="591.48" y1="504.5" x2="591.48" y2="528.8" stroke="#000" stroke-width="1.2"/>
<line x1="584.28" y1="509" x2="599.28" y2="525" stroke="#000" stroke-width="0.8"/>
<text transform="translate(592.88 540.8) scale(0.6 1)" text-anchor="middle" class="ax">60</text>
<line x1="686.6" y1="504.5" x2="686.6" y2="528.8" stroke="#000" stroke-width="1.2"/>
<line x1="679.4" y1="509" x2="694.4" y2="525" stroke="#000" stroke-width="0.8"/>
<text transform="translate(688 540.8) scale(0.6 1)" text-anchor="middle" class="ax">70</text>
<line x1="781.72" y1="504.5" x2="781.72" y2="528.8" stroke="#000" stroke-width="1.2"/>
<line x1="774.52" y1="509" x2="789.52" y2="525" stroke="#000" stroke-width="0.8"/>
<text transform="translate(783.12 540.8) scale(0.6 1)" text-anchor="middle" class="ax">80</text>
<line x1="876.84" y1="504.5" x2="876.84" y2="528.8" stroke="#000" stroke-width="1.2"/>
<line x1="869.64" y1="509" x2="884.64" y2="525" stroke="#000" stroke-width="0.8"/>
<text transform="translate(878.24 540.8) scale(0.6 1)" text-anchor="middle" class="ax">90</text>
<line x1="971.96" y1="504.5" x2="971.96" y2="528.8" stroke="#000" stroke-width="1.2"/>
<line x1="964.76" y1="509" x2="979.76" y2="525" stroke="#000" stroke-width="0.8"/>
<text transform="translate(973.36 540.8) scale(0.6 1)" text-anchor="middle" class="ax">100</text>
<line x1="1067.08" y1="504.5" x2="1067.08" y2="528.8" stroke="#000" stroke-width="1.2"/>
<line x1="1059.88" y1="509" x2="1074.88" y2="525" stroke="#000" stroke-width="0.8"/>
<text transform="translate(1068.48 540.8) scale(0.6 1)" text-anchor="middle" class="ax">110</text>
<line x1="1162.2" y1="504.5" x2="1162.2" y2="528.8" stroke="#000" stroke-width="1.2"/>
<line x1="1155" y1="509" x2="1170" y2="525" stroke="#000" stroke-width="0.8"/>
<text transform="translate(1163.6 540.8) scale(0.6 1)" text-anchor="middle" class="ax">120</text>
<line x1="1250.12" y1="509" x2="1265.12" y2="525" stroke="#000" stroke-width="0.8"/>
<text transform="translate(1258.72 540.8) scale(0.6 1)" text-anchor="middle" class="ax">130</text>
<line x1="1352.44" y1="504.5" x2="1352.44" y2="528.8" stroke="#000" stroke-width="1.2"/>
<line x1="1345.24" y1="509" x2="1360.24" y2="525" stroke="#000" stroke-width="0.8"/>
<text transform="translate(1353.84 540.8) scale(0.6 1)" text-anchor="middle" class="ax">140</text>
<line x1="1447.56" y1="504.5" x2="1447.56" y2="528.8" stroke="#000" stroke-width="1.2"/>
<line x1="1440.36" y1="509" x2="1455.36" y2="525" stroke="#000" stroke-width="0.8"/>
<text transform="translate(1448.96 540.8) scale(0.6 1)" text-anchor="middle" class="ax">150</text>
<path d="M772.1 219.9 L772.1 133 Q772.1 129.6 775.1 129.6 L778.3 129.6 Q779.7 132 781.3 132 Q782.9 129.6 784.3 129.6 Q787.3 129.6 787.3 133 L787.3 219.9 Z" fill="none" stroke="#000" stroke-width="1.7" stroke-linejoin="miter"/>
<path d="M773.3 132.6 L776.9 130.2 L780.3 132.2 L776.7 134.6 Z" fill="#fff" stroke="#000" stroke-width="1.2"/>
<text transform="translate(779.4 127.2) scale(0.62 1)" text-anchor="middle" class="bh">1</text>
<path d="M838.7 219.9 L838.7 133 Q838.7 129.6 841.7 129.6 L844.9 129.6 Q846.3 132 847.9 132 Q849.5 129.6 850.9 129.6 Q854.2 129.6 854.2 133 L854.2 219.9 Z" fill="none" stroke="#000" stroke-width="1.7" stroke-linejoin="miter"/>
<path d="M839.9 132.6 L843.5 130.2 L846.9 132.2 L843.3 134.6 Z" fill="#fff" stroke="#000" stroke-width="1.2"/>
<text transform="translate(846.15 127.2) scale(0.62 1)" text-anchor="middle" class="bh">2</text>
<path d="M890.9 239.8 L890.9 133 Q890.9 129.6 893.9 129.6 L897.1 129.6 Q898.5 132 900.1 132 Q901.7 129.6 903.1 129.6 Q906.2 129.6 906.2 133 L906.2 239.8 Z" fill="none" stroke="#000" stroke-width="1.7" stroke-linejoin="miter"/>
<path d="M892.1 132.6 L895.7 130.2 L899.1 132.2 L895.5 134.6 Z" fill="#fff" stroke="#000" stroke-width="1.2"/>
<text transform="translate(898.25 127.2) scale(0.62 1)" text-anchor="middle" class="bh">3</text>
<path d="M957.4 239.8 L957.4 133 Q957.4 129.6 960.4 129.6 L963.6 129.6 Q965 132 966.6 132 Q968.2 129.6 969.6 129.6 Q972.6 129.6 972.6 133 L972.6 239.8 Z" fill="none" stroke="#000" stroke-width="1.7" stroke-linejoin="miter"/>
<path d="M958.6 132.6 L962.2 130.2 L965.6 132.2 L962 134.6 Z" fill="#fff" stroke="#000" stroke-width="1.2"/>
<text transform="translate(964.7 127.2) scale(0.62 1)" text-anchor="middle" class="bh">4</text>
<text x="814.3" y="128.6" text-anchor="middle" class="bhc">左</text>
<text x="930.3" y="128.6" text-anchor="middle" class="bhc">右</text>
<rect x="1149.2" y="205.3" width="294.1" height="97.9" fill="#fff" stroke="#000" stroke-width="3.4"/>
<path d="M949.4 340.8 L1148.5 261.4 L1148.5 288.9 L950.4 342.4 Z" fill="#000"/>
<path d="M987.5 328.6 L1152 263.9 L1152 284.8 Z" fill="#fff"/>
<text x="1166.3" y="275" class="call" textLength="242" lengthAdjust="spacing">充填式溶洞</text>
<text x="1423.6" y="273.6" style="font-family:'DejaVu Sans',sans-serif;font-size:10.5px;fill:#777">↵</text>
<g transform="scale(1 1.22)"><text x="1527" y="41.2" class="unit" textLength="80" lengthAdjust="spacing"><tspan font-size="20">ρ</tspan><tspan font-size="12" dy="1.5">s</tspan><tspan dy="-1.5">(Ω·m)</tspan></text></g>
<rect x="1541.7" y="62" width="30" height="53.5" fill="#ff0000" stroke="#223" stroke-width="0.9"/>
<text transform="translate(1577.2 119.5) scale(0.6 1)" text-anchor="start" class="ax">1500</text>
<rect x="1541.7" y="115.5" width="30" height="53.5" fill="#ff0000" stroke="#223" stroke-width="0.9"/>
<text transform="translate(1577.2 173) scale(0.6 1)" text-anchor="start" class="ax">1000</text>
<rect x="1541.7" y="169" width="30" height="53.5" fill="#ff5000" stroke="#223" stroke-width="0.9"/>
<text transform="translate(1577.2 226.5) scale(0.6 1)" text-anchor="start" class="ax">800</text>
<rect x="1541.7" y="222.5" width="30" height="53.5" fill="#ffff00" stroke="#223" stroke-width="0.9"/>
<text transform="translate(1577.2 280) scale(0.6 1)" text-anchor="start" class="ax">600</text>
<rect x="1541.7" y="276" width="30" height="53.5" fill="#00ff00" stroke="#223" stroke-width="0.9"/>
<text transform="translate(1577.2 333.5) scale(0.6 1)" text-anchor="start" class="ax">400</text>
<rect x="1541.7" y="329.5" width="30" height="53.5" fill="#50ff00" stroke="#223" stroke-width="0.9"/>
<text transform="translate(1577.2 387) scale(0.6 1)" text-anchor="start" class="ax">250</text>
<rect x="1541.7" y="383" width="30" height="53.5" fill="#00ffff" stroke="#223" stroke-width="0.9"/>
<text transform="translate(1577.2 440.5) scale(0.6 1)" text-anchor="start" class="ax">100</text>
<rect x="1541.7" y="436.5" width="30" height="53.5" fill="#4a78ff" stroke="#223" stroke-width="0.9"/>
<text transform="translate(1577.2 494) scale(0.6 1)" text-anchor="start" class="ax">50</text>
<rect x="1541.7" y="490" width="30" height="53.5" fill="#0000ff" stroke="#223" stroke-width="0.9"/>
<text transform="translate(1577.2 547.5) scale(0.6 1)" text-anchor="start" class="ax">0</text>
</svg>
</body></html>
